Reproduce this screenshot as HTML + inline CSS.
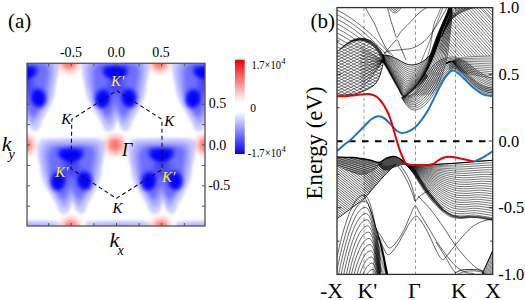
<!DOCTYPE html>
<html><head><meta charset="utf-8"><style>
html,body{margin:0;padding:0;background:#fff;}
svg{display:block;}
text{font-family:"Liberation Serif",serif;}
</style></head><body>
<svg xmlns="http://www.w3.org/2000/svg" width="525" height="300" viewBox="0 0 525 300">
<rect width="525" height="300" fill="#fff"/>
<defs>
<clipPath id="hc"><rect x="27" y="63.3" width="178" height="162.7"/></clipPath>
<filter id="b7" x="-30%" y="-30%" width="160%" height="160%"><feGaussianBlur stdDeviation="6"/></filter>
<filter id="b5" x="-30%" y="-30%" width="160%" height="160%"><feGaussianBlur stdDeviation="5"/></filter>
<filter id="b3" x="-30%" y="-30%" width="160%" height="160%"><feGaussianBlur stdDeviation="3.2"/></filter>
<filter id="b15" x="-30%" y="-30%" width="160%" height="160%"><feGaussianBlur stdDeviation="1.5"/></filter>
<filter id="b25" x="-30%" y="-30%" width="160%" height="160%"><feGaussianBlur stdDeviation="2.5"/></filter>
<filter id="b2" x="-30%" y="-30%" width="160%" height="160%"><feGaussianBlur stdDeviation="2.3"/></filter>
<filter id="br" x="-50%" y="-50%" width="200%" height="200%"><feGaussianBlur stdDeviation="3.5"/></filter>
<linearGradient id="cb" x1="0" y1="0" x2="0" y2="1"><stop offset="0" stop-color="#f00000"/><stop offset="0.45" stop-color="#fff"/><stop offset="0.55" stop-color="#fff"/><stop offset="1" stop-color="#0000f8"/></linearGradient>
</defs>
<defs><g id="bl" fill="#0000ff"><path d="M-30 -34C-25 -34.2 -10 -35 0 -35C10 -35 24.3 -35.5 30 -34C35.7 -32.5 33.5 -29 34 -26C34.5 -23 33.5 -19.3 33 -16C32.5 -12.7 31.5 -9.2 31 -6C30.5 -2.8 30.7 0 30 3C29.3 6 28.3 8.8 27 12C25.7 15.2 23.7 18.8 22 22C20.3 25.2 18.3 28.3 17 31C15.7 33.7 15.2 36.3 14 38C12.8 39.7 11.5 41.2 10 41C8.5 40.8 6.3 39 5 37C3.7 35 3 29 2 29C1 29 0.3 35 -1 37C-2.3 39 -4.3 40.7 -6 41C-7.7 41.3 -9.5 40.7 -11 39C-12.5 37.3 -13.5 33.8 -15 31C-16.5 28.2 -18.2 25.2 -20 22C-21.8 18.8 -24.4 15.2 -26 12C-27.6 8.8 -28.7 6 -29.5 3C-30.3 0 -30.4 -2.8 -31 -6C-31.6 -9.2 -32.5 -12.7 -33 -16C-33.5 -19.3 -33.8 -24.3 -34 -26Z" fill-opacity="0.19" filter="url(#b15)"/><path d="M-25 -30C-20.8 -30.2 -8.3 -31 0 -31C8.3 -31 20.2 -31.5 25 -30C29.8 -28.5 28.5 -25.3 29 -22C29.5 -18.7 28.5 -13.7 28 -10C27.5 -6.3 26.8 -3.3 26 0C25.2 3.3 24.3 6.8 23 10C21.7 13.2 19.7 16.2 18 19C16.3 21.8 14.3 24.7 13 27C11.7 29.3 11.2 32 10 33C8.8 34 7.2 34.2 6 33C4.8 31.8 3.8 28 3 26C2.2 24 1.7 21 1 21C0.3 21 -0.2 24 -1 26C-1.8 28 -2.7 31.8 -4 33C-5.3 34.2 -7.7 34 -9 33C-10.3 32 -10.7 29.3 -12 27C-13.3 24.7 -15.3 21.8 -17 19C-18.7 16.2 -20.6 13.2 -22 10C-23.4 6.8 -24.5 3.3 -25.5 0C-26.5 -3.3 -27.4 -6.3 -28 -10C-28.6 -13.7 -28.8 -20 -29 -22Z" fill-opacity="0.22" filter="url(#b2)"/><path d="M-19 -26C-15.8 -26.2 -6.5 -27 0 -27C6.5 -27 16 -27.3 20 -26C24 -24.7 23.7 -22.2 24 -19C24.3 -15.8 22.5 -10.8 22 -7C21.5 -3.2 21.7 0.7 21 4C20.3 7.3 19.3 10.2 18 13C16.7 15.8 14.3 18.8 13 21C11.7 23.2 11.3 25.5 10 26C8.7 26.5 6.3 25.5 5 24C3.7 22.5 2.8 18.8 2 17C1.2 15.2 0.7 13 0 13C-0.7 13 -1.2 15.2 -2 17C-2.8 18.8 -3.7 22.5 -5 24C-6.3 25.5 -8.7 26.5 -10 26C-11.3 25.5 -11.7 23.2 -13 21C-14.3 18.8 -16.7 15.8 -18 13C-19.3 10.2 -20.3 7.3 -21 4C-21.7 0.7 -21.7 -3.2 -22 -7C-22.3 -10.8 -22.8 -17 -23 -19Z" fill-opacity="0.32" filter="url(#b2)"/><ellipse cx="-0.3" cy="-18.5" rx="12" ry="5.5" transform="rotate(0 -0.3 -18.5)" fill-opacity="0.85" filter="url(#b2)"/><ellipse cx="-12.8" cy="8" rx="7.5" ry="9.5" transform="rotate(14 -12.8 8)" fill-opacity="0.85" filter="url(#b2)"/><ellipse cx="13.6" cy="7.5" rx="7.5" ry="9.5" transform="rotate(-14 13.6 7.5)" fill-opacity="0.85" filter="url(#b2)"/><path d="M-14 -24L14 -24L4 -10L-4 -10Z" fill-opacity="0.7" filter="url(#b25)"/><ellipse cx="0.5" cy="-4" rx="9" ry="8" fill-opacity="0.35" filter="url(#b25)"/><ellipse cx="-0.3" cy="-17" rx="7.5" ry="3.6" transform="rotate(0 -0.3 -17)" fill-opacity="1" filter="url(#b2)"/><ellipse cx="-12.3" cy="8.5" rx="4.5" ry="6.5" transform="rotate(12 -12.3 8.5)" fill-opacity="1" filter="url(#b2)"/><ellipse cx="13.3" cy="8" rx="4.5" ry="6.5" transform="rotate(-12 13.3 8)" fill-opacity="1" filter="url(#b2)"/></g></defs>
<g clip-path="url(#hc)">
<rect x="27" y="63.3" width="178" height="162.7" fill="#fff"/>
<use href="#bl" transform="translate(24.9 90.5)"/>
<use href="#bl" transform="translate(115.4 90.5)"/>
<use href="#bl" transform="translate(70.9 173)"/>
<use href="#bl" transform="translate(26.4 255.5)"/>
<use href="#bl" transform="translate(205.9 90.5)"/>
<use href="#bl" transform="translate(161.4 173)"/>
<use href="#bl" transform="translate(116.9 255.5)"/>
<use href="#bl" transform="translate(207.4 255.5)"/>
<g fill="#ff1818" fill-opacity="0.68" filter="url(#br)"><circle cx="69.2" cy="62.5" r="8"/><circle cx="24.7" cy="145" r="8"/><circle cx="159.7" cy="62.5" r="8"/><circle cx="115.2" cy="145" r="8"/><circle cx="70.7" cy="227.5" r="8"/><circle cx="205.7" cy="145" r="8"/><circle cx="161.2" cy="227.5" r="8"/></g>
</g>
<path d="M116.7 90.6 L161.9 119.3 L162.2 169.5 L116.3 198.4 L71 168.7 L71.8 119.4Z" fill="none" stroke="#111" stroke-width="1.1" stroke-dasharray="4 3"/>
<rect x="27" y="63.3" width="178" height="162.7" fill="none" stroke="#555" stroke-width="1.3"/>
<path d="M48.7 63.3v3M48.7 226v-3M71.3 63.3v3M71.3 226v-3M93.9 63.3v3M93.9 226v-3M116.5 63.3v3M116.5 226v-3M139.1 63.3v3M139.1 226v-3M161.7 63.3v3M161.7 226v-3M184.3 63.3v3M184.3 226v-3M27 206.2h3M205 206.2h-3M27 185.8h3M205 185.8h-3M27 165.4h3M205 165.4h-3M27 145h3M205 145h-3M27 124.6h3M205 124.6h-3M27 104.2h3M205 104.2h-3M27 83.8h3M205 83.8h-3" stroke="#555" stroke-width="1"/>
<g font-family="Liberation Serif" font-style="italic" font-size="15">
<text x="61.2" y="123.8" fill="#000">K</text>
<text x="164.3" y="125.9" fill="#000">K</text>
<text x="112.6" y="212.7" fill="#000">K</text>
<text x="111" y="86.2" fill="#fff000">K′</text>
<text x="55.3" y="177" fill="#fff000">K′</text>
<text x="162" y="182" fill="#fff000">K′</text>
</g>
<text x="122" y="156" font-family="Liberation Serif" font-style="italic" font-size="18">Γ</text>
<g font-family="Liberation Serif" font-size="14">
<text x="59.9" y="56.8">-0.5</text><text x="107.4" y="56.8">0.0</text><text x="152.2" y="56.8">0.5</text>
<text x="208.7" y="108">0.5</text><text x="208.7" y="149.5">0.0</text><text x="208.2" y="190">-0.5</text>
</g>
<text x="1.7" y="150.8" font-family="Liberation Serif" font-style="italic" font-size="22">k</text>
<text x="8.6" y="159" font-family="Liberation Serif" font-style="italic" font-size="14">y</text>
<text x="109.4" y="247" font-family="Liberation Serif" font-style="italic" font-size="22">k</text>
<text x="117.5" y="254.6" font-family="Liberation Serif" font-style="italic" font-size="14">x</text>
<rect x="235" y="59.7" width="9.7" height="94.3" fill="url(#cb)"/>
<g font-family="Liberation Serif" font-size="11.5">
<text x="251.5" y="68.6" textLength="29.5" lengthAdjust="spacingAndGlyphs">1.7×10</text><text x="281.5" y="64.3" font-size="8">4</text>
<text x="250.2" y="111.8">0</text>
<text x="247.8" y="156.6" textLength="33.5" lengthAdjust="spacingAndGlyphs">-1.7×10</text><text x="281.7" y="152.3" font-size="8">4</text>
</g>
<g font-family="Liberation Serif" font-size="21">
<text x="8" y="28">(a)</text><text x="310.4" y="28">(b)</text>
</g>
<clipPath id="bc"><rect x="337" y="7.6" width="155.7" height="266.79999999999995"/></clipPath>
<g clip-path="url(#bc)">
<path d="M364 7.6V274.4M415.5 7.6V274.4M455.5 7.6V274.4" stroke="#999" stroke-width="1" stroke-dasharray="3.3 2.7"/>
<defs><clipPath id="cdome"><path d="M337 52C338.3 50.9 342.5 47.2 345 45.5C347.5 43.8 349.8 42.4 352 41.5C354.2 40.6 356 40.3 358 40.2C360 40.1 362 40.2 364 40.8C366 41.3 368.2 42.3 370 43.5C371.8 44.7 373.5 46.4 375 48C376.5 49.6 377.8 51.2 379 53C380.2 54.8 381.8 57.7 382.5 59C383.2 60.3 382.9 60 383 61C383.1 62 383.1 63.2 382.8 65C382.5 66.8 381.8 69.5 381 72C380.2 74.5 379.3 77.7 378 80C376.7 82.3 375.2 84.2 373 86C370.8 87.8 368 89.2 365 90.5C362 91.8 358 93.3 355 94C352 94.7 350 94.7 347 94.9C344 95.1 338.7 95.2 337 95.2Z"/></clipPath><clipPath id="cright"><path d="M451 7.6L494 7.6L494 56L480 56.3L466 56.5L455 56.5L450 56.8L444 57.8L438 60.5L433 61L435.5 54L438.5 45L442 35L446 24L449.5 14Z"/></clipPath><clipPath id="cv2"><path d="M337 165.5L350 170.5L361 174.5L370 172L376 167L381 164L386 166L392 165L397 163.5L390 170L383 177L376 185L370 192L364 199L357 204L349 210L341 216L337 218.5Z"/></clipPath><clipPath id="cv2r"><path d="M364 150L400 150L400 200L364 200Z"/></clipPath><clipPath id="clens"><path d="M337 157C339.6 157.1 347.3 157 352.7 157.5C358.1 158 364.9 159.2 369.3 160C373.7 160.8 377 162 379.3 162.5C381.6 163 383.2 162.3 383 163C382.8 163.7 379.8 165.2 378 166.5C376.2 167.8 374.7 169.6 372 171C369.3 172.4 365.7 174.9 362 175C358.3 175.1 354.2 173 350 171.5C345.8 170 339.2 166.9 337 166Z"/></clipPath><clipPath id="chump"><path d="M337 190L390 190L392 274.4L337 274.4Z"/></clipPath><clipPath id="cbl"><path d="M376 232L382 240L387 274.4L372 274.4Z"/></clipPath><clipPath id="cbr"><path d="M482 274.4L493 249L493 274.4Z"/></clipPath></defs><g clip-path="url(#cdome)"><path d="M337 -22L390 4.5M337 -20.5L390 -47M337 -18.9L390 7.6M337 -17.4L390 -43.9M337 -15.8L390 10.7M337 -14.3L390 -40.8M337 -12.7L390 13.8M337 -11.2L390 -37.7M337 -9.6L390 16.9M337 -8.1L390 -34.6M337 -6.5L390 20M337 -5L390 -31.5M337 -3.4L390 23.1M337 -1.9L390 -28.4M337 -0.3L390 26.2M337 1.2L390 -25.3M337 2.8L390 29.3M337 4.3L390 -22.2M337 5.9L390 32.4M337 7.4L390 -19.1M337 9L390 35.5M337 10.5L390 -16M337 12.1L390 38.6M337 13.6L390 -12.9M337 15.2L390 41.7M337 16.7L390 -9.8M337 18.3L390 44.8M337 19.8L390 -6.7M337 21.4L390 47.9M337 22.9L390 -3.6M337 24.5L390 51M337 26L390 -0.5M337 27.6L390 54.1M337 29.1L390 2.6M337 30.7L390 57.2M337 32.2L390 5.7M337 33.8L390 60.3M337 35.3L390 8.8M337 36.9L390 63.4M337 38.4L390 11.9M337 40L390 66.5M337 41.5L390 15M337 43.1L390 69.6M337 44.6L390 18.1M337 46.2L390 72.7M337 47.7L390 21.2M337 49.3L390 75.8M337 50.8L390 24.3M337 52.4L390 78.9M337 53.9L390 27.4M337 55.5L390 82M337 57L390 30.5M337 58.6L390 85.1M337 60.1L390 33.6M337 61.7L390 88.2M337 63.2L390 36.7M337 64.8L390 91.3M337 66.3L390 39.8M337 67.9L390 94.4M337 69.4L390 42.9M337 71L390 97.5M337 72.5L390 46M337 74.1L390 100.6M337 75.6L390 49.1M337 77.2L390 103.7M337 78.7L390 52.2M337 80.3L390 106.8M337 81.8L390 55.3M337 83.4L390 109.9M337 84.9L390 58.4M337 86.5L390 113M337 88L390 61.5M337 89.6L390 116.1M337 91.1L390 64.6M337 92.7L390 119.2M337 94.2L390 67.7M337 95.8L390 122.3M337 97.3L390 70.8M337 98.9L390 125.4M337 100.4L390 73.9M337 102L390 128.5M337 103.5L390 77M337 105.1L390 131.6M337 106.6L390 80.1M337 108.2L390 134.7M337 109.7L390 83.2M337 111.3L390 137.8M337 112.8L390 86.3M337 114.4L390 140.9M337 115.9L390 89.4M337 117.5L390 144M337 119L390 92.5M337 120.6L390 147.1M337 122.1L390 95.6M337 123.7L390 150.2M337 125.2L390 98.7M337 126.8L390 153.3M337 128.3L390 101.8M337 129.9L390 156.4M337 131.4L390 104.9M337 133L390 159.5M337 134.5L390 108M337 136.1L390 162.6M337 137.6L390 111.1M337 139.2L390 165.7M337 140.7L390 114.2M337 142.3L390 168.8M337 143.8L390 117.3" fill="none" stroke="#000" stroke-width="0.5"/></g>
<g clip-path="url(#cdome)"><path d="M383 61C381.1 59.7 375.3 55.6 371.5 53.3C367.7 51 361.9 48 360 47M383 61C381.1 60.1 375.3 57.1 371.5 55.4C367.7 53.8 361.9 51.7 360 50.9M383 61C381.1 60.4 375.3 58.6 371.5 57.6C367.7 56.6 361.9 55.3 360 54.8M383 61C381.1 60.8 375.3 60.1 371.5 59.8C367.7 59.4 361.9 58.9 360 58.7M383 61C381.1 61.1 375.3 61.6 371.5 61.9C367.7 62.2 361.9 62.5 360 62.6M383 61C381.1 61.5 375.3 63.1 371.5 64C367.7 65 361.9 66.1 360 66.5M383 61C381.1 61.9 375.3 64.6 371.5 66.2C367.7 67.8 361.9 69.7 360 70.5M383 61C381.1 62.2 375.3 66.1 371.5 68.3C367.7 70.6 361.9 73.4 360 74.4M383 61C381.1 62.6 375.3 67.6 371.5 70.5C367.7 73.4 361.9 77 360 78.3M383 61C381.1 62.9 375.3 69.1 371.5 72.7C367.7 76.2 361.9 80.6 360 82.2M383 61C381.1 63.3 375.3 70.6 371.5 74.8C367.7 79 361.9 84.2 360 86.1M383 61C381.1 63.7 375.3 72.1 371.5 77C367.7 81.8 361.9 87.8 360 90" fill="none" stroke="#000" stroke-width="0.5"/></g>
<path d="M337 52C338.3 50.9 342.5 47.2 345 45.5C347.5 43.8 349.8 42.4 352 41.5C354.2 40.6 356 40.3 358 40.2C360 40.1 362 40.2 364 40.8C366 41.3 368.2 42.3 370 43.5C371.8 44.7 373.5 46.4 375 48C376.5 49.6 377.8 51.2 379 53C380.2 54.8 381.9 58 382.5 59" fill="none" stroke="#000" stroke-width="0.6"/>
<path d="M337 95.2C338.7 95.2 344 95.1 347 94.9C350 94.7 352 94.7 355 94C358 93.3 362 91.8 365 90.5C368 89.2 370.8 87.8 373 86C375.2 84.2 376.7 82.3 378 80C379.3 77.7 380.2 74.5 381 72C381.8 69.5 382.5 66.8 382.8 65C383.1 63.2 383 61.7 383 61" fill="none" stroke="#000" stroke-width="0.8"/>
<path d="M337 10L338 10.5L339 11L340 11.6L341 12.1L342 12.7L343 13.2L344 13.8L345 14.4L346 15L347 15.6L348 16.3L349 16.9L350 17.6L351 18.3L352 18.9L353 19.6L354 20.3L355 21.1L356 21.8L357 22.6L358 23.3L359 24.1L360 24.9L361 25.7L362 26.5L363 27.3L364 28.2L365 29L366 29.9L367 30.8L368 31.7L369 32.6L370 33.5L371 34.4L372 35.3L373 36.3L374 37.3L375 38.2L376 39.2L377 40.2L378 41.3L379 42.3L380 43.3L381 44.4L382 45.5L383 46.5L384 47.6L385 48.7L386 49.9L387 51L388 52.1L389 53.3L390 54.5M337 14.6L338 15.1L339 15.6L340 16.2L341 16.7L342 17.3L343 17.8L344 18.4L345 19L346 19.6L347 20.2L348 20.9L349 21.5L350 22.2L351 22.9L352 23.5L353 24.2L354 24.9L355 25.7L356 26.4L357 27.2L358 27.9L359 28.7L360 29.5L361 30.3L362 31.1L363 31.9L364 32.8L365 33.6L366 34.5L367 35.4L368 36.3L369 37.2L370 38.1L371 39L372 39.9L373 40.9L374 41.9L375 42.8L376 43.8L377 44.8L378 45.9L379 46.9L380 47.9L381 49L382 50.1L383 51.1L384 52.2L385 53.3L386 54.5L387 55.6L388 56.7L389 57.9L390 59.1M337 19.2L338 19.7L339 20.2L340 20.8L341 21.3L342 21.9L343 22.4L344 23L345 23.6L346 24.2L347 24.8L348 25.5L349 26.1L350 26.8L351 27.5L352 28.1L353 28.8L354 29.5L355 30.3L356 31L357 31.8L358 32.5L359 33.3L360 34.1L361 34.9L362 35.7L363 36.5L364 37.4L365 38.2L366 39.1L368.5 39.7L369.1 40L369.7 40.2L370.3 40.5L370.9 40.8L371.5 41L372 41.5L372.5 41.9L373 42.4L373.5 42.8L374 43.3L374.5 43.7L375 44.2L375.5 44.6L376 45.1L376.5 45.5L376.9 46L377.3 46.5L377.7 47L378.1 47.5L378.5 48L378.9 48.5L379.3 49L379.7 49.5L380.1 50L380.5 50.5L380.8 51.1L381.2 51.7L381.5 52.3L381.9 52.9L382.2 53.5L382.6 54.1L382.9 54.7L383.3 55.3L383.6 55.9L384 56.5L384.5 58.5L385 60.4M337 23.8L338 24.3L339 24.8L340 25.4L341 25.9L342 26.5L343 27L344 27.6L345 28.2L346 28.8L347 29.4L348 30.1L349 30.7L350 31.4L351 32.1L352 32.7L353 33.4L354 34.1L355 34.9L356 35.6L357 36.4L358 37.1L359 37.9L361.7 38.3L362.3 38.3L362.9 38.4L363.5 38.4L364.1 38.5L364.7 38.6L365.3 38.6L365.9 38.9L366.5 39.2L367.1 39.4L367.7 39.7L368.3 40L368.9 40.2L369.5 40.5L370.1 40.8L370.7 41L371.3 41.3L371.8 41.8L372.3 42.2L372.8 42.7L373.3 43.1L373.8 43.6L374.3 44L374.8 44.5L375.3 44.9L375.8 45.4L376.3 45.8L376.7 46.3L377.1 46.8L377.5 47.3L377.9 47.8L378.3 48.3L378.7 48.8L379.1 49.3L379.5 49.8L379.9 50.3L380.3 50.8L380.7 51.4L381 52L381.4 52.6L381.7 53.2L382.1 53.8L382.4 54.4L382.8 55L383.1 55.6L383.5 56.2L383.8 56.8L384.3 58.8L385 60.6M337 28.4L338 28.9L339 29.4L340 30L341 30.5L342 31.1L343 31.6L344 32.2L345 32.8L346 33.4L347 34L348 34.7L349 35.3L350 36L351 36.7L352 37.3L353 38L354 38.7L356.1 39L356.7 38.8L357.3 38.7L357.9 38.6L358.5 38.4L359.1 38.3L359.7 38.4L360.3 38.4L360.9 38.5L361.5 38.5L362.1 38.6L362.7 38.7L363.3 38.7L363.9 38.8L364.5 38.8L365.1 38.9L365.7 39.2L366.3 39.4L366.9 39.7L367.5 40L368.1 40.2L368.7 40.5L369.3 40.8L369.9 41.1L370.5 41.3L371.1 41.6L371.6 42.1L372.1 42.5L372.6 43L373.1 43.4L373.6 43.9L374.1 44.3L374.6 44.8L375.1 45.2L375.6 45.6L376.1 46.1L376.5 46.6L376.9 47.1L377.3 47.6L377.7 48.1L378.1 48.6L378.5 49.1L378.9 49.6L379.3 50.1L379.7 50.6L380.1 51.1L380.5 51.7L380.8 52.3L381.2 52.9L381.5 53.5L381.9 54.1L382.2 54.7L382.6 55.3L382.9 55.9L383.3 56.5L383.6 57.1L384.1 59.1L385 60.8M337 33L338 33.5L339 34L340 34.6L341 35.1L342 35.7L343 36.2L344 36.8L345 37.4L346 38L347 38.6L348 39.3L349 39.9L350 40.6L352.3 40.3L353 39.9L353.6 39.8L354.2 39.6L354.8 39.5L355.4 39.4L356 39.2L356.6 39.1L357.2 39L357.8 38.8L358.4 38.7L359 38.6L359.6 38.6L360.2 38.7L360.8 38.8L361.4 38.8L362 38.9L362.6 38.9L363.2 39L363.8 39.1L364.4 39.1L365 39.2L365.6 39.5L366.2 39.7L366.8 40L367.4 40.3L368 40.5L368.6 40.8L369.2 41.1L369.8 41.3L370.4 41.6L371 41.9L371.5 42.3L372 42.8L372.5 43.2L373 43.7L373.5 44.1L374 44.6L374.5 45L375 45.5L375.5 45.9L376 46.4L376.4 46.9L376.8 47.4L377.2 47.9L377.6 48.4L378 48.9L378.4 49.4L378.8 49.9L379.2 50.4L379.6 50.9L380 51.4L380.3 52L380.7 52.6L381 53.2L381.4 53.8L381.7 54.4L382.1 55L382.4 55.6L382.8 56.2L383.1 56.8L383.5 57.4L384 59.4L385 61M337 37.6L338 38.1L339 38.6L340 39.2L341 39.7L342 40.3L343 40.8L344 41.4L345 42L346 42.6L347.9 43L348.6 42.6L349.3 42.2L350 41.8L350.7 41.4L351.4 41L352.1 40.6L352.8 40.2L353.4 40L354 39.9L354.6 39.8L355.2 39.6L355.8 39.5L356.4 39.4L357 39.2L357.6 39.1L358.2 39L358.8 38.9L359.4 38.9L360 39L360.6 39L361.2 39.1L361.8 39.2L362.4 39.2L363 39.3L363.6 39.3L364.2 39.4L364.8 39.5L365.4 39.7L366 40L366.6 40.3L367.2 40.5L367.8 40.8L368.4 41.1L369 41.3L369.6 41.6L370.2 41.9L370.8 42.2L371.3 42.6L371.8 43.1L372.3 43.5L372.8 44L373.3 44.4L373.8 44.9L374.3 45.3L374.8 45.8L375.3 46.2L375.8 46.7L376.2 47.2L376.6 47.7L377 48.2L377.4 48.7L377.8 49.2L378.2 49.7L378.6 50.2L379 50.7L379.4 51.2L379.8 51.7L380.2 52.3L380.5 52.9L380.9 53.5L381.2 54.1L381.6 54.7L381.9 55.3L382.3 55.9L382.6 56.5L383 57.1L383.3 57.7L383.8 59.7L385 61.2M337 42.2L338 42.7L339 43.2L340 43.8L341 44.3L342 44.9L343 45.4L344.8 45.1L345.6 44.4L346.3 44L347 43.6L347.7 43.2L348.4 42.8L349.1 42.4L349.8 42L350.5 41.6L351.2 41.2L351.9 40.8L352.6 40.4L353.2 40.3L353.8 40.2L354.4 40L355 39.9L355.6 39.8L356.2 39.7L356.8 39.5L357.4 39.4L358 39.3L358.6 39.1L359.2 39.2L359.8 39.3L360.4 39.3L361 39.4L361.6 39.4L362.2 39.5L362.8 39.6L363.4 39.6L364 39.7L364.6 39.7L365.2 40L365.8 40.3L366.4 40.5L367 40.8L367.6 41.1L368.2 41.4L368.8 41.6L369.4 41.9L370 42.2L370.6 42.4L371.1 42.9L371.6 43.3L372.1 43.8L372.6 44.2L373.1 44.7L373.6 45.1L374.1 45.6L374.6 46L375.1 46.5L375.6 46.9L376 47.4L376.4 47.9L376.8 48.4L377.2 48.9L377.6 49.4L378 49.9L378.4 50.4L378.8 50.9L379.2 51.4L379.6 51.9L380 52.5L380.3 53.1L380.7 53.7L381 54.3L381.4 54.9L381.7 55.5L382.1 56.1L382.4 56.7L382.8 57.3L383.1 57.9L383.6 59.9L385 61.4M337 46.8L338 47.3L339 47.8L340 48.4L341.5 48L342.3 47.3L343.1 46.7L343.9 46L344.7 45.4L345.5 44.7L346.2 44.3L346.9 43.9L347.6 43.5L348.3 43.1L349 42.7L349.7 42.3L350.4 41.9L351.1 41.5L351.8 41.1L352.5 40.7L353.1 40.6L353.7 40.5L354.3 40.3L354.9 40.2L355.5 40.1L356.1 39.9L356.7 39.8L357.3 39.7L357.9 39.6L358.5 39.4L359.1 39.5L359.7 39.5L360.3 39.6L360.9 39.7L361.5 39.7L362.1 39.8L362.7 39.8L363.3 39.9L363.9 40L364.5 40L365.1 40.3L365.7 40.6L366.3 40.8L366.9 41.1L367.5 41.4L368.1 41.6L368.7 41.9L369.3 42.2L369.9 42.4L370.5 42.7L371 43.2L371.5 43.6L372 44.1L372.5 44.5L373 45L373.5 45.4L374 45.9L374.5 46.3L375 46.8L375.5 47.2L375.9 47.7L376.3 48.2L376.7 48.7L377.1 49.2L377.5 49.7L377.9 50.2L378.3 50.7L378.7 51.2L379.1 51.7L379.5 52.2L379.8 52.8L380.2 53.4L380.5 54L380.9 54.6L381.2 55.2L381.6 55.8L381.9 56.4L382.3 57L382.6 57.6L383 58.2L383.5 60.2L385 61.6M337 51.4L338.9 50.2L339.7 49.5L340.5 48.9L341.3 48.2L342.1 47.6L342.9 47L343.7 46.3L344.5 45.6L345.3 45L346 44.6L346.7 44.2L347.4 43.8L348.1 43.4L348.8 43L349.5 42.6L350.2 42.2L350.9 41.8L351.6 41.4L352.3 41L352.9 40.9L353.5 40.7L354.1 40.6L354.7 40.5L355.3 40.4L355.9 40.2L356.5 40.1L357.1 40L357.7 39.8L358.3 39.7L358.9 39.8L359.5 39.8L360.1 39.9L360.7 39.9L361.3 40L361.9 40.1L362.5 40.1L363.1 40.2L363.7 40.2L364.3 40.3L364.9 40.6L365.5 40.8L366.1 41.1L366.7 41.4L367.3 41.6L367.9 41.9L368.5 42.2L369.1 42.5L369.7 42.7L370.3 43L370.8 43.5L371.3 43.9L371.8 44.4L372.3 44.8L372.8 45.2L373.3 45.7L373.8 46.1L374.3 46.6L374.8 47L375.3 47.5L375.7 48L376.1 48.5L376.5 49L376.9 49.5L377.3 50L377.7 50.5L378.1 51L378.5 51.5L378.9 52L379.3 52.5L379.7 53.1L380 53.7L380.4 54.3L380.7 54.9L381.1 55.5L381.4 56.1L381.8 56.7L382.1 57.3L382.4 57.9L382.8 58.5L383.3 60.5L385 61.8" fill="none" stroke="#000" stroke-width="0.55"/>
<path d="M382 55C383.3 55.2 387.3 55.2 390 56C392.7 56.8 395.5 58.2 398 59.5C400.5 60.8 402.7 62.6 405 63.5C407.3 64.4 409.7 65 412 65C414.3 65 416.8 64.3 419 63.5C421.2 62.7 423 61.6 425 60C427 58.4 429.2 56.3 431 54C432.8 51.7 434.5 48.5 436 46C437.5 43.5 439.2 41.7 440 39C440.8 36.3 439.8 33 440.5 30C441.2 27 443 23.8 444.2 21C445.4 18.2 446.6 15.2 447.5 13C448.4 10.8 449.2 8.5 449.5 7.6" fill="none" stroke="#000" stroke-width="0.55"/>
<path d="M382.1 55.4C383.4 55.7 387.3 56 389.9 56.9C392.5 57.8 395.2 59.4 397.7 60.8C400.1 62.2 402.2 64.1 404.5 65.1C406.8 66.2 409.1 67.1 411.4 67.2C413.7 67.2 416.2 66.4 418.3 65.5C420.5 64.6 422.3 63.5 424.3 61.9C426.3 60.3 428.4 58.2 430.2 55.9C432.1 53.6 433.7 50.4 435.2 47.9C436.7 45.4 438.4 43.8 439.2 40.9C440.1 37.9 439.7 33.3 440.6 30C441.4 26.7 443.1 23.8 444.3 21C445.4 18.2 446.7 15.2 447.6 13C448.5 10.8 449.2 8.5 449.6 7.6" fill="none" stroke="#000" stroke-width="0.55"/>
<path d="M382.1 55.8C383.4 56.1 387.2 56.8 389.7 57.8C392.3 58.9 394.9 60.6 397.3 62.1C399.7 63.6 401.8 65.6 404.1 66.8C406.3 67.9 408.5 69.1 410.8 69.3C413 69.4 415.5 68.4 417.6 67.5C419.8 66.6 421.7 65.4 423.6 63.7C425.6 62.1 427.7 60 429.5 57.7C431.3 55.4 433 52.3 434.5 49.8C436 47.3 437.5 46 438.5 42.7C439.5 39.4 439.7 33.6 440.6 30C441.6 26.4 443.2 23.8 444.3 21C445.5 18.2 446.8 15.2 447.6 13C448.5 10.8 449.3 8.5 449.6 7.6" fill="none" stroke="#000" stroke-width="0.55"/>
<path d="M382.2 56.2C383.4 56.6 387.1 57.5 389.6 58.7C392.1 59.9 394.7 61.7 397 63.3C399.3 64.9 401.4 67 403.6 68.3C405.8 69.6 408 71.1 410.2 71.3C412.4 71.5 414.9 70.4 417 69.4C419.1 68.4 421 67.2 423 65.5C425 63.9 427 61.8 428.8 59.5C430.6 57.2 432.3 54.1 433.8 51.6C435.3 49.1 437.3 46.3 437.8 44.4C438.3 42.5 436.4 42.4 436.9 40C437.4 37.6 439.5 33.2 440.7 30C442 26.8 443.2 23.8 444.4 21C445.6 18.2 446.8 15.2 447.7 13C448.6 10.8 449.4 8.5 449.7 7.6" fill="none" stroke="#000" stroke-width="0.55"/>
<path d="M382.3 56.6C383.5 57.1 387.1 58.2 389.5 59.6C391.9 60.9 394.4 62.8 396.7 64.5C399 66.2 401 68.4 403.2 69.8C405.3 71.3 407.4 73.1 409.6 73.3C411.8 73.5 414.2 72.3 416.4 71.3C418.5 70.3 420.4 68.9 422.4 67.2C424.3 65.6 426.3 63.6 428.1 61.2C429.9 58.9 431.6 55.9 433.1 53.4C434.6 50.9 436.5 48.3 437.1 46.1C437.7 43.9 436.4 42.7 437 40C437.6 37.3 439.5 33.2 440.8 30C442 26.8 443.3 23.8 444.5 21C445.6 18.2 446.9 15.2 447.8 13C448.6 10.8 449.4 8.5 449.8 7.6" fill="none" stroke="#000" stroke-width="0.55"/>
<path d="M382.3 56.9C383.5 57.5 387 58.9 389.4 60.4C391.7 61.8 394.1 63.8 396.4 65.7C398.6 67.5 400.6 69.7 402.7 71.3C404.8 72.9 406.9 74.9 409.1 75.2C411.3 75.5 413.6 74.1 415.8 73.1C417.9 72 419.8 70.6 421.8 68.9C423.7 67.2 425.7 65.2 427.4 62.9C429.2 60.6 430.9 57.6 432.4 55.1C433.9 52.6 435.7 50.3 436.4 47.8C437.2 45.2 436.3 43 437 40C437.8 37 439.6 33.2 440.8 30C442.1 26.8 443.4 23.8 444.5 21C445.7 18.2 446.9 15.2 447.8 13C448.7 10.8 449.5 8.5 449.8 7.6" fill="none" stroke="#000" stroke-width="0.55"/>
<path d="M382.4 57.3C383.5 57.9 386.9 59.6 389.2 61.2C391.5 62.8 393.9 64.9 396.1 66.8C398.3 68.7 400.2 71 402.3 72.7C404.4 74.4 406.4 76.7 408.5 77.1C410.7 77.4 413.1 75.9 415.2 74.8C417.3 73.7 419.2 72.3 421.2 70.5C423.1 68.8 425 66.8 426.8 64.5C428.6 62.2 430.3 59.3 431.8 56.7C433.3 54.2 434.9 52.1 435.8 49.4C436.7 46.6 436.2 43.2 437.1 40C437.9 36.8 439.6 33.2 440.9 30C442.1 26.8 443.4 23.8 444.6 21C445.8 18.2 447 15.2 447.9 13C448.8 10.8 449.6 8.5 449.9 7.6" fill="none" stroke="#000" stroke-width="0.55"/>
<path d="M382.4 57.6C383.6 58.4 386.9 60.2 389.1 61.9C391.3 63.7 393.7 65.8 395.8 67.9C397.9 69.9 399.9 72.2 401.9 74.1C404 75.9 405.9 78.5 408 78.9C410.1 79.3 412.5 77.6 414.6 76.5C416.7 75.4 418.7 73.8 420.6 72.1C422.5 70.4 424.4 68.4 426.2 66.1C427.9 63.8 429.7 60.9 431.2 58.3C432.7 55.8 434.2 53.9 435.2 50.9C436.2 47.8 436.2 43.5 437.1 40C438.1 36.5 439.7 33.2 440.9 30C442.2 26.8 443.5 23.8 444.6 21C445.8 18.2 447.1 15.2 447.9 13C448.8 10.8 449.6 8.5 449.9 7.6" fill="none" stroke="#000" stroke-width="0.55"/>
<path d="M382.5 58C383.6 58.8 386.8 60.9 389 62.7C391.2 64.5 393.4 66.8 395.5 68.9C397.6 71 399.5 73.4 401.5 75.4C403.5 77.3 405.5 80.1 407.5 80.6C409.6 81.1 412 79.3 414 78.1C416.1 76.9 418.1 75.4 420 73.6C422 71.9 423.8 69.9 425.6 67.6C427.3 65.3 429.1 62.4 430.6 59.9C432.1 57.3 433.4 55.7 434.6 52.4C435.7 49.1 436.1 43.7 437.2 40C438.3 36.3 439.7 33.2 441 30C442.2 26.8 443.5 23.8 444.7 21C445.9 18.2 447.1 15.2 448 13C448.9 10.8 449.7 8.5 450 7.6" fill="none" stroke="#000" stroke-width="0.55"/>
<path d="M382.5 58.3C383.6 59.1 386.8 61.5 388.9 63.4C391 65.3 393.2 67.7 395.3 69.9C397.3 72.1 399.2 74.6 401.2 76.7C403.1 78.7 405 81.8 407.1 82.3C409.1 82.8 411.4 80.9 413.5 79.7C415.6 78.5 417.6 76.8 419.5 75.1C421.4 73.3 423.2 71.4 425 69.1C426.7 66.8 428.5 63.9 430 61.3C431.5 58.8 433.4 55.7 434 53.8C434.6 51.9 433 52.3 433.5 50C434.1 47.7 436 43.3 437.2 40C438.5 36.7 439.8 33.2 441 30C442.3 26.8 443.6 23.8 444.7 21C445.9 18.2 447.2 15.2 448 13C448.9 10.8 449.7 8.5 450 7.6" fill="none" stroke="#000" stroke-width="0.55"/>
<path d="M382.6 58.6C383.6 59.5 386.7 62 388.8 64.1C390.9 66.1 393 68.6 395 70.9C397 73.2 398.9 75.7 400.8 77.9C402.7 80 404.6 83.3 406.6 83.9C408.6 84.4 410.9 82.4 413 81.2C415.1 79.9 417.1 78.2 419 76.5C420.9 74.7 422.7 72.7 424.4 70.5C426.1 68.2 427.9 65.3 429.4 62.8C430.9 60.2 432.7 57.3 433.4 55.2C434.1 53 433 52.5 433.6 50C434.2 47.5 436 43.3 437.3 40C438.5 36.7 439.8 33.2 441.1 30C442.3 26.8 443.6 23.8 444.8 21C446 18.2 447.2 15.2 448.1 13C449 10.8 449.8 8.5 450.1 7.6" fill="none" stroke="#000" stroke-width="0.55"/>
<path d="M382.6 58.9C383.7 59.9 386.7 62.6 388.7 64.7C390.7 66.9 392.8 69.4 394.8 71.8C396.7 74.2 398.6 76.8 400.5 79C402.4 81.3 404.2 84.8 406.2 85.4C408.2 86 410.5 83.8 412.5 82.6C414.6 81.3 416.6 79.6 418.5 77.8C420.4 76 422.2 74.1 423.9 71.8C425.6 69.5 427.4 66.7 428.9 64.1C430.4 61.6 432.1 58.8 432.9 56.5C433.7 54.1 432.9 52.7 433.6 50C434.4 47.3 436.1 43.3 437.3 40C438.6 36.7 439.9 33.2 441.1 30C442.4 26.8 443.7 23.8 444.8 21C446 18.2 447.3 15.2 448.1 13C449 10.8 449.8 8.5 450.1 7.6" fill="none" stroke="#000" stroke-width="0.55"/>
<path d="M382.7 59.2C383.7 60.2 386.6 63.1 388.6 65.4C390.6 67.6 392.6 70.2 394.5 72.7C396.5 75.1 398.3 77.8 400.2 80.1C402 82.5 403.8 86.2 405.8 86.8C407.8 87.5 410 85.2 412.1 83.9C414.1 82.6 416.2 80.9 418.1 79.1C420 77.2 421.7 75.3 423.4 73.1C425.1 70.8 426.9 68 428.4 65.4C429.9 62.8 431.5 60.3 432.4 57.7C433.3 55.1 432.9 53 433.7 50C434.5 47 436.1 43.3 437.4 40C438.6 36.7 439.9 33.2 441.2 30C442.4 26.8 443.7 23.8 444.9 21C446.1 18.2 447.3 15.2 448.2 13C449.1 10.8 449.9 8.5 450.2 7.6" fill="none" stroke="#000" stroke-width="0.55"/>
<path d="M382.7 59.4C383.7 60.5 386.6 63.6 388.5 65.9C390.5 68.3 392.4 70.9 394.3 73.5C396.2 76 398 78.7 399.8 81.2C401.7 83.6 403.4 87.5 405.4 88.2C407.3 88.9 409.6 86.5 411.6 85.2C413.7 83.9 415.8 82.1 417.6 80.2C419.5 78.4 421.2 76.5 422.9 74.2C424.6 72 426.4 69.2 427.9 66.6C429.4 64.1 430.9 61.6 431.9 58.9C432.9 56.1 432.8 53.1 433.7 50C434.7 46.9 436.2 43.3 437.4 40C438.7 36.7 440 33.2 441.2 30C442.5 26.8 443.8 23.8 444.9 21C446.1 18.2 447.4 15.2 448.2 13C449.1 10.8 449.9 8.5 450.2 7.6" fill="none" stroke="#000" stroke-width="0.55"/>
<path d="M382.8 59.7C383.7 60.8 386.6 64.1 388.4 66.5C390.3 68.9 392.3 71.7 394.1 74.3C396 76.9 397.7 79.6 399.6 82.2C401.4 84.7 403.1 88.8 405 89.5C407 90.2 409.2 87.8 411.2 86.4C413.3 85.1 415.4 83.2 417.2 81.4C419.1 79.5 420.7 77.6 422.5 75.4C424.2 73.1 426 70.3 427.5 67.8C429 65.2 430.4 62.9 431.5 60C432.5 57 432.8 53.3 433.8 50C434.8 46.7 436.2 43.3 437.5 40C438.7 36.7 440 33.2 441.3 30C442.5 26.8 443.8 23.8 445 21C446.1 18.2 447.4 15.2 448.3 13C449.2 10.8 449.9 8.5 450.3 7.6" fill="none" stroke="#000" stroke-width="0.55"/>
<path d="M382.8 59.9C383.7 61.1 386.5 64.5 388.4 67C390.2 69.5 392.1 72.3 393.9 75C395.7 77.7 397.5 80.5 399.3 83.1C401.1 85.7 402.7 89.9 404.7 90.7C406.6 91.4 408.8 88.9 410.8 87.6C412.9 86.2 415 84.3 416.8 82.4C418.7 80.6 420.3 78.7 422 76.4C423.7 74.2 425.5 71.4 427 68.8C428.5 66.3 429.9 64.2 431 61C432.2 57.9 432.7 53.5 433.8 50C434.9 46.5 436.3 43.3 437.5 40C438.8 36.7 440.1 33.2 441.3 30C442.6 26.8 443.8 23.8 445 21C446.2 18.2 447.4 15.2 448.3 13C449.2 10.8 450 8.5 450.3 7.6" fill="none" stroke="#000" stroke-width="0.55"/>
<path d="M382.9 60.1C383.8 61.3 386.5 64.9 388.3 67.5C390.1 70.1 392 72.9 393.7 75.7C395.5 78.4 397.3 81.2 399 83.9C400.8 86.6 402.4 91 404.3 91.8C406.2 92.6 408.5 90 410.5 88.6C412.5 87.2 414.6 85.3 416.5 83.4C418.3 81.5 419.9 79.7 421.6 77.4C423.3 75.1 425.1 72.4 426.6 69.8C428.1 67.3 429.4 65.3 430.6 62C431.8 58.7 432.7 53.7 433.9 50C435 46.3 436.3 43.3 437.6 40C438.8 36.7 440.1 33.2 441.4 30C442.6 26.8 443.9 23.8 445.1 21C446.2 18.2 447.5 15.2 448.4 13C449.2 10.8 450 8.5 450.4 7.6" fill="none" stroke="#000" stroke-width="0.55"/>
<path d="M382.9 60.3C383.8 61.6 386.4 65.3 388.2 67.9C390 70.6 391.8 73.5 393.6 76.3C395.3 79.1 397.1 81.9 398.8 84.7C400.6 87.5 402.2 92 404 92.8C405.9 93.6 408.1 91 410.2 89.6C412.2 88.1 414.3 86.2 416.2 84.3C418 82.4 419.6 80.6 421.3 78.3C423 76 424.8 73.3 426.3 70.7C427.8 68.2 429 66.3 430.3 62.9C431.5 59.4 432.7 53.8 433.9 50C435.1 46.2 436.3 43.3 437.6 40C438.8 36.7 440.1 33.2 441.4 30C442.6 26.8 443.9 23.8 445.1 21C446.3 18.2 447.5 15.2 448.4 13C449.3 10.8 450.1 8.5 450.4 7.6" fill="none" stroke="#000" stroke-width="0.55"/>
<path d="M382.9 60.5C383.8 61.8 386.4 65.6 388.2 68.3C389.9 71.1 391.7 74 393.4 76.8C395.2 79.7 396.9 82.6 398.6 85.4C400.3 88.2 401.9 92.9 403.8 93.8C405.7 94.6 407.9 91.9 409.9 90.4C411.9 89 414 87 415.9 85.1C417.7 83.2 419.3 81.4 421 79.1C422.6 76.8 424.5 74.1 426 71.6C427.5 69 429.1 65.6 430 63.7C430.8 61.7 430.3 62.3 430.9 60C431.6 57.7 432.8 53.3 433.9 50C435 46.7 436.4 43.3 437.6 40C438.9 36.7 440.2 33.2 441.4 30C442.7 26.8 443.9 23.8 445.1 21C446.3 18.2 447.5 15.2 448.4 13C449.3 10.8 450.1 8.5 450.4 7.6" fill="none" stroke="#000" stroke-width="0.55"/>
<path d="M382.9 60.6C383.8 62 386.4 65.9 388.1 68.7C389.8 71.5 391.6 74.4 393.3 77.3C395 80.2 396.7 83.2 398.4 86C400.1 88.9 401.7 93.7 403.5 94.6C405.4 95.4 407.6 92.7 409.6 91.2C411.6 89.7 413.8 87.7 415.6 85.8C417.5 83.9 419 82.1 420.7 79.8C422.3 77.6 424.2 74.9 425.7 72.3C427.2 69.7 428.8 66.4 429.7 64.4C430.5 62.3 430.2 62.4 430.9 60C431.7 57.6 432.8 53.3 433.9 50C435.1 46.7 436.4 43.3 437.6 40C438.9 36.7 440.2 33.2 441.4 30C442.7 26.8 444 23.8 445.1 21C446.3 18.2 447.6 15.2 448.4 13C449.3 10.8 450.1 8.5 450.4 7.6" fill="none" stroke="#000" stroke-width="0.55"/>
<path d="M383 60.8C383.8 62.1 386.4 66.1 388.1 69C389.8 71.8 391.5 74.8 393.2 77.8C394.9 80.7 396.6 83.7 398.3 86.6C400 89.5 401.5 94.4 403.3 95.3C405.2 96.2 407.4 93.3 409.4 91.9C411.4 90.4 413.5 88.3 415.4 86.4C417.2 84.5 418.7 82.7 420.4 80.4C422.1 78.2 423.9 75.5 425.4 72.9C426.9 70.3 428.5 67.1 429.4 65C430.3 62.8 430.2 62.5 431 60C431.7 57.5 432.8 53.3 434 50C435.1 46.7 436.4 43.3 437.7 40C438.9 36.7 440.2 33.2 441.5 30C442.7 26.8 444 23.8 445.2 21C446.3 18.2 447.6 15.2 448.5 13C449.3 10.8 450.1 8.5 450.5 7.6" fill="none" stroke="#000" stroke-width="0.55"/>
<path d="M383 60.9C383.8 62.3 386.4 66.4 388 69.2C389.7 72.1 391.4 75.2 393.1 78.1C394.8 81.1 396.5 84.1 398.1 87C399.8 90 401.3 95 403.2 95.9C405 96.8 407.2 93.9 409.2 92.4C411.2 90.9 413.4 88.9 415.2 86.9C417 85 418.6 83.2 420.2 80.9C421.9 78.7 423.7 76 425.2 73.4C426.7 70.9 428.3 67.7 429.2 65.5C430.2 63.2 430.2 62.6 431 60C431.8 57.4 432.9 53.3 434 50C435.1 46.7 436.4 43.3 437.7 40C438.9 36.7 440.2 33.2 441.5 30C442.7 26.8 444 23.8 445.2 21C446.3 18.2 447.6 15.2 448.5 13C449.4 10.8 450.1 8.5 450.5 7.6" fill="none" stroke="#000" stroke-width="0.55"/>
<path d="M383 61C383.8 62.4 386.3 66.5 388 69.4C389.7 72.3 391.4 75.4 393 78.4C394.7 81.4 396.4 84.4 398 87.3C399.7 90.3 401.2 95.4 403.1 96.3C404.9 97.2 407.1 94.3 409.1 92.8C411.1 91.3 413.2 89.2 415.1 87.3C416.9 85.4 418.4 83.6 420.1 81.3C421.7 79.1 423.6 76.4 425.1 73.8C426.6 71.2 428.1 68.1 429.1 65.8C430.1 63.5 430.2 62.6 431 60C431.8 57.4 432.9 53.3 434 50C435.1 46.7 436.4 43.3 437.7 40C438.9 36.7 440.2 33.2 441.5 30C442.7 26.8 444 23.8 445.2 21C446.4 18.2 447.6 15.2 448.5 13C449.4 10.8 450.2 8.5 450.5 7.6" fill="none" stroke="#000" stroke-width="0.55"/>
<path d="M383 61C383.8 62.4 386.3 66.6 388 69.5C389.7 72.4 391.3 75.5 393 78.5C394.7 81.5 396.3 84.5 398 87.5C399.7 90.5 401.2 95.6 403 96.5C404.8 97.4 407 94.5 409 93C411 91.5 413.2 89.4 415 87.5C416.8 85.6 418.3 83.8 420 81.5C421.7 79.2 423.5 76.6 425 74C426.5 71.4 428 68.3 429 66C430 63.7 430.2 62.7 431 60C431.8 57.3 432.9 53.3 434 50C435.1 46.7 436.4 43.3 437.7 40C438.9 36.7 440.2 33.2 441.5 30C442.8 26.8 444 23.8 445.2 21C446.4 18.2 447.6 15.2 448.5 13C449.4 10.8 450.2 8.5 450.5 7.6" fill="none" stroke="#000" stroke-width="0.55"/>
<path d="M378 52C378.3 52.2 381.3 57.2 383 60C384.7 62.8 386.3 66 388 69C389.7 72 391.3 75 393 78C394.7 81 396.5 84.5 398 87C399.5 89.5 401 91.4 402 93C403 94.6 404.2 96.3 404 96.5C403.8 96.7 402.3 95.8 401 94C399.7 92.2 397.7 88.8 396 86C394.3 83.2 392.7 80 391 77C389.3 74 387.7 71 386 68C384.3 65 382.3 61.7 381 59C379.7 56.3 377.7 51.8 378 52Z" fill="#000" fill-opacity="0.55"/>
<path d="M403 96.5C403.2 96 407 94.2 409 92.5C411 90.8 413.2 88.6 415 86.5C416.8 84.4 418.5 82.1 420 80C421.5 77.9 422.7 74.7 424 74C425.3 73.3 428.2 74.7 428 76C427.8 77.3 425 79.8 423 82C421 84.2 418.5 86.8 416 89C413.5 91.2 410.2 94.2 408 95.5C405.8 96.8 402.8 97 403 96.5Z" fill="#000" fill-opacity="0.6"/>
<path d="M403 96.8C403.8 96.6 406.5 95.9 408 95.6C409.5 95.3 410.7 95.5 412 94.8C413.3 94.1 414.7 93 416 91.5C417.3 90 418.7 87.6 420 85.5C421.3 83.4 422.7 81.2 424 79C425.3 76.8 426.5 74.7 428 72.5C429.5 70.3 431.3 67.8 433 66C434.7 64.2 436.2 62.8 438 61.5C439.8 60.2 442 59.2 444 58.5C446 57.8 448.2 57.5 450 57.2C451.8 57 453.3 56.8 455 57C456.7 57.2 458.2 57.7 460 58.5C461.8 59.3 463.8 60.5 466 62C468.2 63.5 470.7 65.8 473 67.5C475.3 69.2 477.7 71 480 72.5C482.3 74 484.7 75.4 487 76.5C489.3 77.6 492.8 78.6 494 79" fill="none" stroke="#000" stroke-width="0.55"/>
<path d="M402.9 96.9C403.7 96.8 406.3 96.6 407.8 96.5C409.3 96.4 410.5 96.7 411.8 96.2C413.1 95.6 414.5 94.8 415.9 93.3C417.2 91.9 418.7 89.7 420.1 87.8C421.5 85.8 422.9 83.5 424.3 81.4C425.7 79.3 426.9 77.1 428.4 74.9C429.9 72.7 431.7 70.2 433.4 68.2C435.1 66.3 436.6 64.7 438.4 63.4C440.2 62 442.4 60.8 444.3 60C446.2 59.2 448.3 58.8 450.1 58.5C451.9 58.2 453.4 58 455 58.2C456.6 58.4 458.2 59 460 59.9C461.8 60.8 463.8 62.1 466 63.6C468.2 65.2 470.7 67.5 473 69.3C475.3 71.1 477.7 72.8 480 74.3C482.3 75.8 484.7 77.2 487 78.2C489.3 79.2 492.8 80.2 494 80.5" fill="none" stroke="#000" stroke-width="0.55"/>
<path d="M402.7 96.9C403.5 97 406.1 97.3 407.6 97.4C409.1 97.5 410.2 97.9 411.6 97.5C413 97.2 414.3 96.5 415.7 95.2C417.1 93.9 418.7 91.9 420.2 90C421.7 88.1 423.2 85.9 424.6 83.8C426 81.7 427.3 79.5 428.8 77.3C430.3 75.1 432.1 72.5 433.8 70.5C435.5 68.5 437 66.7 438.8 65.2C440.6 63.7 442.7 62.4 444.6 61.5C446.5 60.6 448.5 60.1 450.2 59.8C451.9 59.4 453.4 59.1 455 59.4C456.6 59.7 458.2 60.4 460 61.3C461.8 62.3 463.8 63.7 466 65.3C468.2 66.9 470.7 69.2 473 71.1C475.3 72.9 477.7 74.7 480 76.2C482.3 77.6 484.7 78.9 487 79.9C489.3 80.9 492.8 81.7 494 82.1" fill="none" stroke="#000" stroke-width="0.55"/>
<path d="M402.6 97C403.4 97.2 405.9 98 407.4 98.3C408.9 98.6 410 99.1 411.4 98.9C412.8 98.7 414.1 98.2 415.6 97C417 95.9 418.7 94.1 420.3 92.2C421.9 90.4 423.4 88.3 424.9 86.2C426.4 84.1 427.6 81.9 429.2 79.7C430.8 77.5 432.5 74.9 434.2 72.8C435.9 70.6 437.4 68.7 439.2 67C441 65.4 443 64 444.9 63C446.8 62 448.6 61.4 450.3 61C452 60.6 453.4 60.3 455 60.6C456.6 60.9 458.2 61.7 460 62.8C461.8 63.8 463.8 65.3 466 67C468.2 68.6 470.7 71 473 72.8C475.3 74.7 477.7 76.5 480 78C482.3 79.5 484.7 80.7 487 81.6C489.3 82.6 492.8 83.3 494 83.7" fill="none" stroke="#000" stroke-width="0.55"/>
<path d="M402.4 97.1C403.2 97.4 405.7 98.6 407.2 99.2C408.7 99.7 409.8 100.3 411.2 100.3C412.6 100.2 413.9 99.9 415.4 98.9C416.9 97.9 418.8 96.2 420.4 94.5C422 92.8 423.7 90.7 425.2 88.6C426.7 86.5 428 84.4 429.6 82.1C431.2 79.8 432.9 77.2 434.6 75C436.3 72.8 437.8 70.7 439.6 68.9C441.4 67.2 443.4 65.6 445.2 64.5C447 63.4 448.8 62.8 450.4 62.3C452 61.9 453.4 61.5 455 61.8C456.6 62.1 458.2 63 460 64.2C461.8 65.3 463.8 66.9 466 68.6C468.2 70.3 470.7 72.8 473 74.6C475.3 76.5 477.7 78.4 480 79.8C482.3 81.3 484.7 82.4 487 83.3C489.3 84.2 492.8 84.9 494 85.2" fill="none" stroke="#000" stroke-width="0.55"/>
<path d="M402.2 97.2C403 97.6 405.5 99.3 407 100C408.5 100.8 409.6 101.5 411 101.7C412.4 101.8 413.7 101.6 415.2 100.8C416.8 99.9 418.8 98.4 420.5 96.8C422.2 95.1 423.9 93 425.5 91C427.1 89 428.4 86.8 430 84.5C431.6 82.2 433.3 79.5 435 77.2C436.7 75 438.2 72.6 440 70.8C441.8 68.9 443.8 67.2 445.5 66C447.2 64.8 448.9 64.1 450.5 63.6C452.1 63.1 453.4 62.7 455 63C456.6 63.3 458.2 64.4 460 65.6C461.8 66.8 463.8 68.5 466 70.2C468.2 72 470.7 74.5 473 76.4C475.3 78.3 477.7 80.2 480 81.7C482.3 83.1 484.7 84.2 487 85C489.3 85.9 492.8 86.5 494 86.8" fill="none" stroke="#000" stroke-width="0.55"/>
<path d="M402.1 97.2C402.9 97.8 405.4 100 406.8 100.9C408.2 101.9 409.4 102.7 410.8 103C412.2 103.3 413.5 103.3 415.1 102.6C416.7 101.9 418.8 100.5 420.6 99C422.4 97.5 424.2 95.4 425.8 93.4C427.4 91.4 428.8 89.2 430.4 86.9C432 84.6 433.7 81.9 435.4 79.5C437.1 77.1 438.7 74.6 440.4 72.6C442.1 70.6 444.1 68.8 445.8 67.5C447.5 66.2 449.1 65.4 450.6 64.9C452.1 64.3 453.4 63.8 455 64.2C456.6 64.6 458.2 65.7 460 67C461.8 68.3 463.8 70 466 71.9C468.2 73.8 470.7 76.2 473 78.2C475.3 80.1 477.7 82.1 480 83.5C482.3 84.9 484.7 86 487 86.8C489.3 87.6 492.8 88 494 88.3" fill="none" stroke="#000" stroke-width="0.55"/>
<path d="M401.9 97.3C402.7 98 405.2 100.6 406.6 101.8C408 103 409.2 104 410.6 104.4C412 104.8 413.3 105 414.9 104.5C416.6 103.9 418.8 102.7 420.7 101.2C422.6 99.8 424.4 97.8 426.1 95.8C427.8 93.8 429.2 91.6 430.8 89.3C432.4 87 434.1 84.2 435.8 81.8C437.5 79.3 439.1 76.6 440.8 74.5C442.5 72.3 444.5 70.4 446.1 69C447.8 67.6 449.2 66.8 450.7 66.2C452.2 65.6 453.4 65 455 65.4C456.6 65.8 458.2 67.1 460 68.4C461.8 69.8 463.8 71.6 466 73.5C468.2 75.5 470.7 78 473 80C475.3 81.9 477.7 83.9 480 85.3C482.3 86.7 484.7 87.7 487 88.5C489.3 89.2 492.8 89.6 494 89.8" fill="none" stroke="#000" stroke-width="0.55"/>
<path d="M401.8 97.4C402.6 98.3 405 101.3 406.4 102.7C407.8 104.1 409 105.2 410.4 105.8C411.8 106.4 413.1 106.7 414.8 106.3C416.5 105.9 418.9 104.8 420.8 103.5C422.7 102.2 424.7 100.2 426.4 98.2C428.1 96.2 429.6 94.1 431.2 91.7C432.8 89.3 434.5 86.6 436.2 84C437.9 81.4 439.5 78.5 441.2 76.3C442.9 74 444.8 72 446.4 70.5C448 69 449.4 68.1 450.8 67.4C452.2 66.8 453.5 66.2 455 66.6C456.5 67 458.2 68.4 460 69.9C461.8 71.3 463.8 73.2 466 75.2C468.2 77.2 470.7 79.8 473 81.7C475.3 83.7 477.7 85.7 480 87.1C482.3 88.5 484.7 89.5 487 90.2C489.3 90.9 492.8 91.2 494 91.4" fill="none" stroke="#000" stroke-width="0.55"/>
<path d="M401.6 97.4C402.4 98.5 404.8 102 406.2 103.6C407.6 105.2 408.8 106.4 410.2 107.1C411.6 107.9 412.9 108.4 414.6 108.2C416.4 107.9 418.9 107 420.9 105.8C422.9 104.5 424.9 102.5 426.7 100.6C428.5 98.7 430 96.5 431.6 94.1C433.2 91.7 434.9 88.9 436.6 86.2C438.3 83.6 439.9 80.5 441.6 78.2C443.3 75.8 445.1 73.6 446.7 72C448.2 70.4 449.5 69.4 450.9 68.7C452.3 68 453.5 67.4 455 67.8C456.5 68.2 458.2 69.8 460 71.3C461.8 72.8 463.8 74.8 466 76.8C468.2 78.9 470.7 81.5 473 83.5C475.3 85.5 477.7 87.6 480 89C482.3 90.4 484.7 91.2 487 91.9C489.3 92.6 492.8 92.8 494 93" fill="none" stroke="#000" stroke-width="0.55"/>
<path d="M401.5 97.5C402.2 98.7 404.6 102.7 406 104.5C407.4 106.3 408.6 107.6 410 108.5C411.4 109.4 412.7 110.1 414.5 110C416.3 109.9 418.9 109.2 421 108C423.1 106.8 425.2 104.9 427 103C428.8 101.1 430.3 98.9 432 96.5C433.7 94.1 435.3 91.2 437 88.5C438.7 85.8 440.3 82.5 442 80C443.7 77.5 445.5 75.2 447 73.5C448.5 71.8 449.7 70.8 451 70C452.3 69.2 453.5 68.5 455 69C456.5 69.5 458.2 71.1 460 72.7C461.8 74.3 463.8 76.4 466 78.5C468.2 80.6 470.7 83.2 473 85.3C475.3 87.3 477.7 89.4 480 90.8C482.3 92.2 484.7 93 487 93.6C489.3 94.2 492.8 94.3 494 94.5" fill="none" stroke="#000" stroke-width="0.55"/>
<path d="M446 63.5C447 63.2 449.7 62.4 452 61.5C454.3 60.6 456.7 58.8 460 58C463.3 57.2 466.3 57 472 56.7C477.7 56.3 490.3 56.1 494 56" fill="none" stroke="#000" stroke-width="0.5"/>
<path d="M446 63.5C447 63.2 449.7 62.2 452 61.5C454.3 60.8 456.7 59.7 460 59.1C463.3 58.6 466.3 58.5 472 58.3C477.7 58.1 490.3 58 494 58" fill="none" stroke="#000" stroke-width="0.5"/>
<path d="M446 63.5C447 63.2 449.7 62 452 61.5C454.3 61 456.7 60.5 460 60.3C463.3 60 466.3 59.9 472 59.9C477.7 59.9 490.3 60 494 60" fill="none" stroke="#000" stroke-width="0.5"/>
<path d="M446 63.5C447 63.2 449.7 61.8 452 61.5C454.3 61.2 456.7 61.4 460 61.4C463.3 61.4 466.3 61.4 472 61.5C477.7 61.6 490.3 61.9 494 62" fill="none" stroke="#000" stroke-width="0.5"/>
<path d="M446 63.5C447 63.2 449.7 61.7 452 61.5C454.3 61.3 456.7 62.3 460 62.5C463.3 62.8 466.3 62.9 472 63.1C477.7 63.4 490.3 63.9 494 64" fill="none" stroke="#000" stroke-width="0.5"/>
<path d="M446 63.5C447 63.2 449.7 61.5 452 61.5C454.3 61.5 456.7 63.1 460 63.7C463.3 64.2 466.3 64.3 472 64.7C477.7 65.1 490.3 65.8 494 66" fill="none" stroke="#000" stroke-width="0.5"/>
<path d="M446 63.5C447 63.2 449.7 61.3 452 61.5C454.3 61.7 456.7 64 460 64.8C463.3 65.6 466.3 65.8 472 66.3C477.7 66.9 490.3 67.7 494 68" fill="none" stroke="#000" stroke-width="0.5"/>
<path d="M446 63.5C447 63.2 449.7 61.1 452 61.5C454.3 61.9 456.7 64.9 460 66C463.3 67 466.3 67.3 472 68C477.7 68.6 490.3 69.7 494 70" fill="none" stroke="#000" stroke-width="0.5"/>
<path d="M446 63.5C447 63.2 449.7 60.9 452 61.5C454.3 62.1 456.7 65.7 460 67.1C463.3 68.4 466.3 68.7 472 69.6C477.7 70.4 490.3 71.6 494 72" fill="none" stroke="#000" stroke-width="0.5"/>
<path d="M446 63.5C447 63.2 449.7 60.7 452 61.5C454.3 62.3 456.7 66.6 460 68.2C463.3 69.8 466.3 70.2 472 71.2C477.7 72.1 490.3 73.5 494 74" fill="none" stroke="#000" stroke-width="0.5"/>
<path d="M446 63.5C447 63.2 449.7 60.5 452 61.5C454.3 62.5 456.7 67.5 460 69.4C463.3 71.2 466.3 71.7 472 72.8C477.7 73.9 490.3 75.5 494 76" fill="none" stroke="#000" stroke-width="0.5"/>
<path d="M446 63.5C447 63.2 449.7 60.3 452 61.5C454.3 62.7 456.7 68.3 460 70.5C463.3 72.7 466.3 73.2 472 74.4C477.7 75.7 490.3 77.4 494 78" fill="none" stroke="#000" stroke-width="0.5"/>
<path d="M449 69.8C449.5 69.5 451 68.2 452 67.9C453 67.6 454 67.7 455 68.1C456 68.4 457 69.4 458 70.1C459 70.9 460 71.7 461 72.6C462 73.4 463 74.4 464 75.4C465 76.3 466 77.3 467 78.3C468 79.3 469 80.3 470 81.3C471 82.3 472 83.1 473 84C474 84.9 475 85.8 476 86.6C477 87.4 478 88.1 479 88.7C480 89.3 481 89.9 482 90.4C483 90.9 484 91.3 485 91.6C486 91.9 487 92.1 488 92.3C489 92.5 490 92.7 491 92.8C492 92.9 493.5 92.9 494 92.9" fill="none" stroke="#000" stroke-width="0.5"/>
<path d="M449 68.2C449.5 67.9 451 66.6 452 66.3C453 66 454 66.1 455 66.5C456 66.8 457 67.8 458 68.5C459 69.3 460 70.1 461 71C462 71.8 463 72.8 464 73.8C465 74.7 466 75.7 467 76.7C468 77.7 469 78.7 470 79.7C471 80.7 472 81.5 473 82.4C474 83.3 475 84.2 476 85C477 85.8 478 86.5 479 87.1C480 87.7 481 88.3 482 88.8C483 89.3 484 89.7 485 90C486 90.3 487 90.5 488 90.7C489 90.9 490 91.1 491 91.2C492 91.3 493.5 91.3 494 91.3" fill="none" stroke="#000" stroke-width="0.5"/>
<path d="M449 66.6C449.5 66.3 451 65 452 64.7C453 64.4 454 64.5 455 64.9C456 65.2 457 66.2 458 66.9C459 67.7 460 68.5 461 69.4C462 70.2 463 71.2 464 72.2C465 73.1 466 74.1 467 75.1C468 76.1 469 77.1 470 78.1C471 79.1 472 79.9 473 80.8C474 81.7 475 82.6 476 83.4C477 84.2 478 84.9 479 85.5C480 86.1 481 86.7 482 87.2C483 87.7 484 88.1 485 88.4C486 88.7 487 88.9 488 89.1C489 89.3 490 89.5 491 89.6C492 89.7 493.5 89.7 494 89.7" fill="none" stroke="#000" stroke-width="0.5"/>
<path d="M449 65C449.5 64.7 451 63.4 452 63.1C453 62.8 454 62.9 455 63.3C456 63.6 457 64.6 458 65.3C459 66.1 460 66.9 461 67.8C462 68.6 463 69.6 464 70.6C465 71.5 466 72.5 467 73.5C468 74.5 469 75.5 470 76.5C471 77.5 472 78.3 473 79.2C474 80.1 475 81 476 81.8C477 82.6 478 83.3 479 83.9C480 84.5 481 85.1 482 85.6C483 86.1 484 86.5 485 86.8C486 87.1 487 87.3 488 87.5C489 87.7 490 87.9 491 88C492 88.1 493.5 88.1 494 88.1" fill="none" stroke="#000" stroke-width="0.5"/>
<g clip-path="url(#cright)"><path d="M441.4 36.8C441.9 35.5 443.3 31.3 444.3 28.8C445.2 26.3 446.3 23.8 447 21.8C447.8 19.8 448.4 18.3 449 16.8C449.6 15.3 450.1 14 450.6 12.8C451 11.6 451.4 10.6 451.7 9.8C452 9 452.2 8.4 452.4 8C452.6 7.5 452.8 7.3 452.8 7.1C452.8 6.9 452 6.6 452.5 6.8C453 7 454.3 7.5 455.5 8.4C456.7 9.3 448.3 0.2 459.5 12.4C470.7 24.6 512 70.2 522.5 81.7M441.4 36.8C441.9 35.5 443.4 31.3 444.4 28.8C445.4 26.3 446.5 23.8 447.4 21.8C448.2 19.8 448.9 18.3 449.7 16.8C450.4 15.3 451.1 14 451.8 12.8C452.5 11.6 453.1 10.6 453.6 9.8C454.2 9 454.6 8.4 455 8C455.3 7.5 455.6 7.3 455.7 7.1C455.8 6.9 455.1 6.6 455.6 6.8C456.1 7 457.4 7.5 458.6 8.4C459.8 9.3 451.4 0.2 462.6 12.4C473.8 24.6 515.1 70.2 525.6 81.7M441.4 36.8C441.9 35.5 443.5 31.3 444.5 28.8C445.5 26.3 446.7 23.8 447.7 21.8C448.6 19.8 449.4 18.3 450.3 16.8C451.2 15.3 452.2 14 453 12.8C453.9 11.6 454.8 10.6 455.6 9.8C456.3 9 457 8.4 457.5 8C458.1 7.5 458.5 7.3 458.7 7.1C458.9 6.9 458.2 6.6 458.7 6.8C459.2 7 460.5 7.5 461.7 8.4C462.9 9.3 454.5 0.2 465.7 12.4C476.9 24.6 518.2 70.2 528.7 81.7M441.5 36.8C442 35.5 443.5 31.3 444.6 28.8C445.7 26.3 446.9 23.8 448 21.8C449 19.8 450 18.3 451 16.8C452.1 15.3 453.2 14 454.3 12.8C455.4 11.6 456.6 10.6 457.5 9.8C458.5 9 459.4 8.4 460.1 8C460.8 7.5 461.4 7.3 461.6 7.1C461.9 6.9 461.3 6.6 461.8 6.8C462.3 7 463.6 7.5 464.8 8.4C466 9.3 457.6 0.2 468.8 12.4C480 24.6 521.3 70.2 531.8 81.7M441.5 36.8C442 35.5 443.6 31.3 444.7 28.8C445.8 26.3 447.1 23.8 448.3 21.8C449.4 19.8 450.5 18.3 451.7 16.8C452.9 15.3 454.2 14 455.5 12.8C456.8 11.6 458.3 10.6 459.5 9.8C460.7 9 461.8 8.4 462.7 8C463.6 7.5 464.2 7.3 464.6 7.1C465 6.9 464.4 6.6 464.9 6.8C465.4 7 466.7 7.5 467.9 8.4C469.1 9.3 460.7 0.2 471.9 12.4C483.1 24.6 524.4 70.2 534.9 81.7M441.5 36.8C442.1 35.5 443.6 31.3 444.8 28.8C446 26.3 447.3 23.8 448.6 21.8C449.8 19.8 451 18.3 452.3 16.8C453.7 15.3 455.2 14 456.7 12.8C458.2 11.6 460 10.6 461.4 9.8C462.9 9 464.3 8.4 465.3 8C466.3 7.5 467.1 7.3 467.6 7.1C468 6.9 467.4 6.6 468 6.8C468.6 7 469.8 7.5 471 8.4C472.2 9.3 463.8 0.2 475 12.4C486.2 24.6 527.5 70.2 538 81.7M441.6 36.8C442.1 35.5 443.7 31.3 444.9 28.8C446.1 26.3 447.6 23.8 448.9 21.8C450.2 19.8 451.5 18.3 453 16.8C454.5 15.3 456.2 14 458 12.8C459.7 11.6 461.8 10.6 463.4 9.8C465.1 9 466.7 8.4 467.9 8C469 7.5 470 7.3 470.5 7.1C471.1 6.9 470.5 6.6 471.1 6.8C471.7 7 472.9 7.5 474.1 8.4C475.3 9.3 466.9 0.2 478.1 12.4C489.3 24.6 530.6 70.2 541.1 81.7M441.6 36.8C442.2 35.5 443.7 31.3 445 28.8C446.3 26.3 447.8 23.8 449.2 21.8C450.6 19.8 452 18.3 453.7 16.8C455.3 15.3 457.2 14 459.2 12.8C461.1 11.6 463.5 10.6 465.4 9.8C467.2 9 469.1 8.4 470.4 8C471.8 7.5 472.9 7.3 473.5 7.1C474.1 6.9 473.6 6.6 474.2 6.8C474.8 7 476 7.5 477.2 8.4C478.4 9.3 470 0.2 481.2 12.4C492.4 24.6 533.7 70.2 544.2 81.7M441.6 36.8C442.2 35.5 443.8 31.3 445.1 28.8C446.4 26.3 448 23.8 449.5 21.8C451.1 19.8 452.5 18.3 454.3 16.8C456.2 15.3 458.3 14 460.4 12.8C462.6 11.6 465.2 10.6 467.3 9.8C469.4 9 471.5 8.4 473 8C474.5 7.5 475.7 7.3 476.5 7.1C477.2 6.9 476.7 6.6 477.3 6.8C477.9 7 479.1 7.5 480.3 8.4C481.5 9.3 473.1 0.2 484.3 12.4C495.5 24.6 536.8 70.2 547.3 81.7M481.9 7.6L550.4 83M485 7.6L553.5 83M488.1 7.6L556.6 83M491.2 7.6L559.7 83M494.3 7.6L562.8 83M456.4 12.4L519.4 81.7M453.8 12.9L516.3 81.7M452.2 14.6L513.2 81.7M451.1 16.8L510.1 81.7M450 19L507 81.7M448.9 21.2L503.9 81.7M447.8 23.4L500.8 81.7M446.7 25.6L497.7 81.7M445.6 27.8L494.6 81.7M444.5 30L491.5 81.7M443.9 32.8L488.4 81.7M442.8 35L485.3 81.7M442.2 37.7L482.2 81.7M441.1 39.9L479.1 81.7M440.5 42.7L476 81.7M439.4 44.9L472.9 81.7M438.8 47.6L469.8 81.7" fill="none" stroke="#000" stroke-width="0.55"/></g>
<path d="M365.5 7.6C366.2 9 368.5 13.3 370 16C371.5 18.7 373.4 21.3 374.7 24C376 26.7 376.8 29.2 378 32C379.2 34.8 380.7 37.8 382 40.5C383.3 43.2 384.7 46 386 48C387.3 50 388.8 51.2 390 52.5C391.2 53.8 392.5 55.4 393 56" fill="none" stroke="#000" stroke-width="0.6"/>
<path d="M387.5 7.6C388 9.7 389.6 16.3 390.7 20C391.8 23.7 393 27.1 394 30C395 32.9 395.5 37 396.7 37.3C397.9 37.5 399.3 33.5 401 31.5C402.7 29.5 405.1 27.5 407 25.5C408.9 23.5 410.9 21.4 412.7 19.5C414.5 17.6 416.3 15.6 418 14C419.7 12.4 421.5 11.1 423 10C424.5 8.9 426.3 8 427 7.6" fill="none" stroke="#000" stroke-width="0.6"/>
<path d="M382 56C382.4 55.5 383.4 54.8 384.7 53.3C386 51.8 388 49.2 390 47C392 44.8 395 40.2 396.7 40C398.4 39.8 398.9 43.8 400 46C401.1 48.2 402 50.7 403 53C404 55.3 405.5 58.8 406 60" fill="none" stroke="#000" stroke-width="0.6"/>
<path d="M384 52.5C385.3 52.2 389.7 50.9 392 50.5C394.3 50.1 395.8 50.2 398 50C400.2 49.8 402.8 49.5 405 49.3C407.2 49 409.1 49.1 411.3 48.5C413.5 47.9 415.9 46.7 418 45.5C420.1 44.3 422 43.2 424 41.5C426 39.8 428.2 37.2 430 35C431.8 32.8 433.3 30.5 435 28C436.7 25.5 438.5 22.5 440 20C441.5 17.5 442.8 15.1 444 13C445.2 10.9 446.5 8.5 447 7.6" fill="none" stroke="#000" stroke-width="0.6"/>
<path d="M421 62C421.8 60 424.5 53.7 426 50C427.5 46.3 428.7 43.5 430 40C431.3 36.5 432.7 32.3 434 29C435.3 25.7 436.5 23.6 438 20C439.5 16.4 442.2 9.7 443 7.6" fill="none" stroke="#000" stroke-width="0.5"/>
<path d="M426 60C426.7 58 428.7 53.8 430 48C431.3 42.2 432.5 30.5 433.8 25C435.1 19.5 436.8 17.9 438 15C439.2 12.1 440.5 8.8 441 7.6" fill="none" stroke="#000" stroke-width="0.5"/>
<path d="M428.5 60C428.7 57.7 430.4 53.3 431.5 50C432.6 46.7 433.8 43.3 435 40C436.2 36.7 437.7 33.2 439 30C440.3 26.8 441.8 23.8 443 21C444.2 18.2 445.6 15.2 446.5 13C447.4 10.8 447.7 8.5 448.5 7.6C449.3 6.7 451.3 6.5 451.5 7.6C451.7 8.7 450.3 11.6 449.5 14C448.7 16.4 447.6 19.2 446.5 22C445.4 24.8 444.2 27.8 443 31C441.8 34.2 440.7 37.7 439.5 41C438.3 44.3 437.1 48 436 51C434.9 54 433.9 56.8 433 59C432.1 61.2 431.2 63.8 430.5 64C429.8 64.2 428.3 62.3 428.5 60Z" fill="#000" fill-opacity="0.92"/>
<path d="M408.5 97C409.6 96 413.2 93 415.1 91C417 89 418.3 87 419.8 85C421.2 83 422.6 81 423.8 79C425 77 426 75 427.1 73C428.1 71 429.1 69 430.1 67C431.1 65 432.1 63 433 61C433.9 59 434.6 57 435.3 55C436.1 53 436.8 51 437.5 49C438.2 47 438.8 45 439.5 43C440.2 41 440.9 39 441.5 37C442.2 35 442.8 33 443.5 31C444.2 29 445 27 445.7 25C446.5 23 447.2 21 447.9 19C448.6 17 449.4 14.9 450 13C450.6 11.1 451.2 8.5 451.5 7.6" fill="none" stroke="#000" stroke-width="0.55"/>
<path d="M411.4 96.7C412.4 95.7 415.9 92.7 417.7 90.7C419.5 88.7 420.8 86.7 422.2 84.7C423.6 82.7 424.9 80.7 426.1 78.7C427.2 76.7 428.2 74.7 429.2 72.7C430.2 70.7 431.1 68.7 432 66.7C433 64.7 434 62.7 434.8 60.7C435.6 58.7 436.2 56.7 436.9 54.7C437.6 52.7 438.3 50.7 439 48.7C439.6 46.7 440.2 44.7 440.8 42.7C441.4 40.7 442 38.7 442.6 36.7C443.3 34.7 443.8 32.7 444.5 30.7C445.1 28.7 445.8 26.7 446.5 24.7C447.2 22.7 447.9 20.7 448.5 18.7C449.1 16.7 449.8 14.6 450.3 12.7C450.8 10.9 451.3 8.4 451.5 7.6" fill="none" stroke="#000" stroke-width="0.55"/>
<path d="M414.2 96.4C415.2 95.4 418.6 92.4 420.3 90.4C422 88.4 423.3 86.4 424.6 84.4C426 82.4 427.2 80.4 428.3 78.4C429.4 76.4 430.3 74.4 431.3 72.4C432.2 70.4 433.1 68.4 434 66.4C434.8 64.4 435.8 62.4 436.5 60.4C437.3 58.4 437.9 56.4 438.5 54.4C439.2 52.4 439.8 50.4 440.4 48.4C441 46.4 441.5 44.4 442.1 42.4C442.6 40.4 443.2 38.4 443.7 36.4C444.3 34.4 444.8 32.4 445.4 30.4C446 28.4 446.7 26.4 447.3 24.4C447.9 22.4 448.5 20.4 449.1 18.4C449.6 16.4 450.2 14.2 450.6 12.4C451 10.6 451.4 8.4 451.5 7.6" fill="none" stroke="#000" stroke-width="0.55"/>
<path d="M417.1 96.1C418.1 95.1 421.2 92.1 422.9 90.1C424.5 88.1 425.8 86.1 427 84.1C428.3 82.1 429.5 80.1 430.5 78.1C431.6 76.1 432.5 74.1 433.3 72.1C434.2 70.1 435.1 68.1 435.9 66.1C436.7 64.1 437.6 62.1 438.3 60.1C439 58.1 439.5 56.1 440.1 54.1C440.7 52.1 441.3 50.1 441.8 48.1C442.3 46.1 442.8 44.1 443.3 42.1C443.8 40.1 444.3 38.1 444.8 36.1C445.3 34.1 445.8 32.1 446.3 30.1C446.9 28.1 447.5 26.1 448 24.1C448.6 22.1 449.1 20.1 449.6 18.1C450.1 16.1 450.6 13.8 450.9 12.1C451.2 10.3 451.4 8.3 451.5 7.6" fill="none" stroke="#000" stroke-width="0.55"/>
<path d="M419.9 95.8C420.8 94.8 423.9 91.8 425.5 89.8C427 87.8 428.2 85.8 429.4 83.8C430.7 81.8 431.7 79.8 432.7 77.8C433.7 75.8 434.6 73.8 435.4 71.8C436.3 69.8 437 67.8 437.8 65.8C438.5 63.8 439.3 61.8 440 59.8C440.6 57.8 441.1 55.8 441.7 53.8C442.2 51.8 442.7 49.8 443.2 47.8C443.7 45.8 444.1 43.8 444.6 41.8C445 39.8 445.5 37.8 445.9 35.8C446.4 33.8 446.8 31.8 447.3 29.8C447.7 27.8 448.3 25.8 448.7 23.8C449.2 21.8 449.7 19.8 450.1 17.8C450.5 15.8 451 13.5 451.2 11.8C451.4 10.1 451.4 8.3 451.5 7.6" fill="none" stroke="#000" stroke-width="0.55"/>
<path d="M422.7 95.5C423.6 94.5 426.5 91.5 428 89.5C429.5 87.5 430.7 85.5 431.8 83.5C433 81.5 434 79.5 434.9 77.5C435.9 75.5 436.7 73.5 437.5 71.5C438.3 69.5 439 67.5 439.7 65.5C440.4 63.5 441.1 61.5 441.7 59.5C442.3 57.5 442.8 55.5 443.2 53.5C443.7 51.5 444.2 49.5 444.6 47.5C445 45.5 445.4 43.5 445.8 41.5C446.2 39.5 446.6 37.5 447 35.5C447.4 33.5 447.7 31.5 448.1 29.5C448.6 27.5 449 25.5 449.4 23.5C449.9 21.5 450.3 19.5 450.6 17.5C450.9 15.5 451.3 13.2 451.4 11.5C451.6 9.8 451.5 8.2 451.5 7.6" fill="none" stroke="#000" stroke-width="0.55"/>
<path d="M425.5 95.2C426.4 94.2 429.1 91.2 430.6 89.2C432 87.2 433.1 85.2 434.2 83.2C435.3 81.2 436.2 79.2 437.1 77.2C438 75.2 438.8 73.2 439.5 71.2C440.2 69.2 440.9 67.2 441.5 65.2C442.2 63.2 442.8 61.2 443.4 59.2C443.9 57.2 444.4 55.2 444.8 53.2C445.2 51.2 445.6 49.2 446 47.2C446.3 45.2 446.7 43.2 447 41.2C447.3 39.2 447.7 37.2 448 35.2C448.3 33.2 448.7 31.2 449 29.2C449.4 27.2 449.8 25.2 450.1 23.2C450.5 21.2 450.8 19.2 451.1 17.2C451.3 15.2 451.6 12.8 451.6 11.2C451.7 9.6 451.5 8.2 451.5 7.6" fill="none" stroke="#000" stroke-width="0.55"/>
<path d="M428.3 94.9C429.1 93.9 431.7 90.9 433.1 88.9C434.5 86.9 435.5 84.9 436.6 82.9C437.6 80.9 438.4 78.9 439.3 76.9C440.1 74.9 440.8 72.9 441.5 70.9C442.2 68.9 442.8 66.9 443.4 64.9C444 62.9 444.6 60.9 445.1 58.9C445.6 56.9 445.9 54.9 446.3 52.9C446.7 50.9 447 48.9 447.3 46.9C447.6 44.9 447.9 42.9 448.2 40.9C448.5 38.9 448.7 36.9 449 34.9C449.3 32.9 449.6 30.9 449.9 28.9C450.2 26.9 450.5 24.9 450.8 22.9C451.1 20.9 451.4 18.9 451.5 16.9C451.7 14.9 451.8 12.5 451.8 10.9C451.8 9.4 451.6 8.2 451.5 7.6" fill="none" stroke="#000" stroke-width="0.55"/>
<path d="M431.1 94.6C431.9 93.6 434.3 90.6 435.6 88.6C436.9 86.6 437.9 84.6 438.9 82.6C439.9 80.6 440.7 78.6 441.4 76.6C442.2 74.6 442.9 72.6 443.5 70.6C444.1 68.6 444.7 66.6 445.3 64.6C445.8 62.6 446.3 60.6 446.7 58.6C447.2 56.6 447.5 54.6 447.8 52.6C448.1 50.6 448.4 48.6 448.7 46.6C448.9 44.6 449.1 42.6 449.4 40.6C449.6 38.6 449.8 36.6 450 34.6C450.2 32.6 450.5 30.6 450.7 28.6C450.9 26.6 451.2 24.6 451.4 22.6C451.7 20.6 451.9 18.6 452 16.6C452.1 14.6 452.1 12.1 452 10.6C451.9 9.1 451.6 8.1 451.5 7.6" fill="none" stroke="#000" stroke-width="0.55"/>
<path d="M382 55C383.3 55.2 387.3 55.2 390 56C392.7 56.8 395.5 58.2 398 59.5C400.5 60.8 402.7 62.6 405 63.5C407.3 64.4 409.7 65 412 65C414.3 65 416.8 64.3 419 63.5C421.2 62.7 423 61.6 425 60C427 58.4 429.2 56.3 431 54C432.8 51.7 434.5 48.5 436 46C437.5 43.5 439.3 40.2 440 39" fill="none" stroke="#000" stroke-width="0.7"/>
<path d="M389 7.6C389.4 8.2 390.4 10.1 391.4 11C392.4 11.9 393.8 13 395 13C396.2 13 397.6 11.9 398.6 11C399.6 10.1 400.6 8.2 401 7.6" fill="none" stroke="#000" stroke-width="0.6"/>
<path d="M390.5 7.6C390.8 7.9 391.6 8.8 392.3 9.4C393.1 10 394.1 11.4 395 11.4C395.9 11.4 396.9 10 397.7 9.4C398.4 8.8 399.2 7.9 399.5 7.6" fill="none" stroke="#000" stroke-width="0.6"/>
<path d="M392 7.6C392.2 7.6 392.7 7.4 393.2 7.8C393.7 8.2 394.4 9.8 395 9.8C395.6 9.8 396.3 8.2 396.8 7.8C397.3 7.4 397.8 7.6 398 7.6" fill="none" stroke="#000" stroke-width="0.6"/>
<g clip-path="url(#cv2)"><path d="M336 64L400 115.2M336 66.4L400 117.6M336 68.8L400 120M336 71.2L400 122.4M336 73.6L400 124.8M336 76L400 127.2M336 78.4L400 129.6M336 80.8L400 132M336 83.2L400 134.4M336 85.6L400 136.8M336 88L400 139.2M336 90.4L400 141.6M336 92.8L400 144M336 95.2L400 146.4M336 97.6L400 148.8M336 100L400 151.2M336 102.4L400 153.6M336 104.8L400 156M336 107.2L400 158.4M336 109.6L400 160.8M336 112L400 163.2M336 114.4L400 165.6M336 116.8L400 168M336 119.2L400 170.4M336 121.6L400 172.8M336 124L400 175.2M336 126.4L400 177.6M336 128.8L400 180M336 131.2L400 182.4M336 133.6L400 184.8M336 136L400 187.2M336 138.4L400 189.6M336 140.8L400 192M336 143.2L400 194.4M336 145.6L400 196.8M336 148L400 199.2M336 150.4L400 201.6M336 152.8L400 204M336 155.2L400 206.4M336 157.6L400 208.8M336 160L400 211.2M336 162.4L400 213.6M336 164.8L400 216M336 167.2L400 218.4M336 169.6L400 220.8M336 172L400 223.2M336 174.4L400 225.6M336 176.8L400 228M336 179.2L400 230.4M336 181.6L400 232.8M336 184L400 235.2M336 186.4L400 237.6M336 188.8L400 240M336 191.2L400 242.4M336 193.6L400 244.8M336 196L400 247.2M336 198.4L400 249.6M336 200.8L400 252M336 203.2L400 254.4M336 205.6L400 256.8M336 208L400 259.2M336 210.4L400 261.6M336 212.8L400 264M336 215.2L400 266.4M336 217.6L400 268.8M336 220L400 271.2M336 222.4L400 273.6M336 224.8L400 276M336 227.2L400 278.4M336 229.6L400 280.8M336 232L400 283.2M336 234.4L400 285.6M336 236.8L400 288M336 239.2L400 290.4M336 241.6L400 292.8M336 244L400 295.2M336 246.4L400 297.6M336 248.8L400 300M336 251.2L400 302.4M336 253.6L400 304.8" fill="none" stroke="#000" stroke-width="0.6"/></g>
<g clip-path="url(#cv2)"><g clip-path="url(#cv2r)"><path d="M336 65.2L400 129.2M336 67.6L400 131.6M336 70L400 134M336 72.4L400 136.4M336 74.8L400 138.8M336 77.2L400 141.2M336 79.6L400 143.6M336 82L400 146M336 84.4L400 148.4M336 86.8L400 150.8M336 89.2L400 153.2M336 91.6L400 155.6M336 94L400 158M336 96.4L400 160.4M336 98.8L400 162.8M336 101.2L400 165.2M336 103.6L400 167.6M336 106L400 170M336 108.4L400 172.4M336 110.8L400 174.8M336 113.2L400 177.2M336 115.6L400 179.6M336 118L400 182M336 120.4L400 184.4M336 122.8L400 186.8M336 125.2L400 189.2M336 127.6L400 191.6M336 130L400 194M336 132.4L400 196.4M336 134.8L400 198.8M336 137.2L400 201.2M336 139.6L400 203.6M336 142L400 206M336 144.4L400 208.4M336 146.8L400 210.8M336 149.2L400 213.2M336 151.6L400 215.6M336 154L400 218M336 156.4L400 220.4M336 158.8L400 222.8M336 161.2L400 225.2M336 163.6L400 227.6M336 166L400 230M336 168.4L400 232.4M336 170.8L400 234.8M336 173.2L400 237.2M336 175.6L400 239.6M336 178L400 242M336 180.4L400 244.4M336 182.8L400 246.8M336 185.2L400 249.2M336 187.6L400 251.6M336 190L400 254M336 192.4L400 256.4M336 194.8L400 258.8M336 197.2L400 261.2M336 199.6L400 263.6M336 202L400 266M336 204.4L400 268.4M336 206.8L400 270.8M336 209.2L400 273.2M336 211.6L400 275.6M336 214L400 278M336 216.4L400 280.4M336 218.8L400 282.8M336 221.2L400 285.2M336 223.6L400 287.6M336 226L400 290M336 228.4L400 292.4M336 230.8L400 294.8M336 233.2L400 297.2M336 235.6L400 299.6M336 238L400 302M336 240.4L400 304.4M336 242.8L400 306.8M336 245.2L400 309.2M336 247.6L400 311.6M336 250L400 314M336 252.4L400 316.4M336 254.8L400 318.8" fill="none" stroke="#000" stroke-width="0.45"/></g></g>
<path d="M396 164C395 165 392.2 167.8 390 170C387.8 172.2 385.3 174.5 383 177C380.7 179.5 378.2 182.5 376 185C373.8 187.5 372 189.7 370 192C368 194.3 366.2 197 364 199C361.8 201 359.5 202.2 357 204C354.5 205.8 351.7 208 349 210C346.3 212 343.2 214.5 341 216C338.8 217.5 336.8 218.5 336 219" fill="none" stroke="#000" stroke-width="0.8"/>
<g clip-path="url(#clens)"><path d="M336 118L390 136.9M336 118L390 99.1M336 120.2L390 139.1M336 120.2L390 101.3M336 122.4L390 141.3M336 122.4L390 103.5M336 124.6L390 143.5M336 124.6L390 105.7M336 126.8L390 145.7M336 126.8L390 107.9M336 129L390 147.9M336 129L390 110.1M336 131.2L390 150.1M336 131.2L390 112.3M336 133.4L390 152.3M336 133.4L390 114.5M336 135.6L390 154.5M336 135.6L390 116.7M336 137.8L390 156.7M336 137.8L390 118.9M336 140L390 158.9M336 140L390 121.1M336 142.2L390 161.1M336 142.2L390 123.3M336 144.4L390 163.3M336 144.4L390 125.5M336 146.6L390 165.5M336 146.6L390 127.7M336 148.8L390 167.7M336 148.8L390 129.9M336 151L390 169.9M336 151L390 132.1M336 153.2L390 172.1M336 153.2L390 134.3M336 155.4L390 174.3M336 155.4L390 136.5M336 157.6L390 176.5M336 157.6L390 138.7M336 159.8L390 178.7M336 159.8L390 140.9M336 162L390 180.9M336 162L390 143.1M336 164.2L390 183.1M336 164.2L390 145.3M336 166.4L390 185.3M336 166.4L390 147.5M336 168.6L390 187.5M336 168.6L390 149.7M336 170.8L390 189.7M336 170.8L390 151.9M336 173L390 191.9M336 173L390 154.1M336 175.2L390 194.1M336 175.2L390 156.3M336 177.4L390 196.3M336 177.4L390 158.5M336 179.6L390 198.5M336 179.6L390 160.7M336 181.8L390 200.7M336 181.8L390 162.9M336 184L390 202.9M336 184L390 165.1M336 186.2L390 205.1M336 186.2L390 167.3M336 188.4L390 207.3M336 188.4L390 169.5M336 190.6L390 209.5M336 190.6L390 171.7M336 192.8L390 211.7M336 192.8L390 173.9M336 195L390 213.9M336 195L390 176.1M336 197.2L390 216.1M336 197.2L390 178.3M336 199.4L390 218.3M336 199.4L390 180.5M336 201.6L390 220.5M336 201.6L390 182.7M336 203.8L390 222.7M336 203.8L390 184.9" fill="none" stroke="#000" stroke-width="0.5"/></g>
<path d="M337 157C339.6 157.1 347.3 157 352.7 157.5C358.1 158 364.9 159.2 369.3 160C373.7 160.8 377 162 379.3 162.5C381.6 163 383.2 162.3 383 163C382.8 163.7 379.8 165.2 378 166.5C376.2 167.8 374.7 169.6 372 171C369.3 172.4 365.7 174.9 362 175C358.3 175.1 354.2 173 350 171.5C345.8 170 339.2 166.9 337 166Z" fill="#000" fill-opacity="0.25"/>
<path d="M378 163.5C378.2 162 381.5 161 383 160C384.5 159 385.4 158.2 387 157.6C388.6 157 391 156.5 392.7 156.4C394.4 156.3 395.6 156.5 397 157C398.4 157.5 399.7 158.5 401 159.5C402.3 160.5 403.7 162.1 405 163C406.3 163.9 409.2 164.9 409 165.2C408.8 165.5 405.7 164.9 404 165C402.3 165.1 400.8 165.5 399 166C397.2 166.5 395 167.2 393 168C391 168.8 388.8 170.3 387 170.5C385.2 170.7 383.5 170.2 382 169C380.5 167.8 377.8 165 378 163.5Z" fill="#000" fill-opacity="0.7"/>
<path d="M337 157C339.6 157.1 347.3 157 352.7 157.5C358.1 158 364.9 159.2 369.3 160C373.7 160.8 376.5 162.6 379.3 162.3C382.1 162 383.8 159.3 386 158.3C388.2 157.3 390.9 156.7 392.7 156.5C394.5 156.3 395.6 156.5 397 157C398.4 157.5 399.7 158.5 401 159.5C402.3 160.5 403.5 162.1 405 163C406.5 163.9 409.2 164.7 410 165" fill="none" stroke="#000" stroke-width="1.3"/>
<path d="M405 164.3C406.7 164.4 411.7 164.9 415 165C418.3 165.1 421.7 165.1 425 165C428.3 164.9 431.7 164.7 435 164.5C438.3 164.3 441.7 164 445 163.8C448.3 163.6 451.7 163.4 455 163.2C458.3 163 461.7 162.8 465 162.5C468.3 162.2 471.7 161.9 475 161.6C478.3 161.3 481.8 161 485 160.8C488.2 160.6 492.5 160.3 494 160.2" fill="none" stroke="#000" stroke-width="0.55"/>
<path d="M405.1 164.3C406.7 164.5 411.6 165.1 414.9 165.3C418.2 165.5 421.4 165.6 424.7 165.6C428 165.7 431.3 165.6 434.6 165.5C437.9 165.5 441.2 165.4 444.5 165.3C447.8 165.2 451.2 165.2 454.5 165.1C457.8 165 461.1 164.9 464.4 164.7C467.8 164.5 471.1 164.1 474.5 163.9C477.8 163.6 481.3 163.3 484.6 163.1C487.8 162.9 492.4 162.7 494 162.6" fill="none" stroke="#000" stroke-width="0.55"/>
<path d="M405.2 164.4C406.8 164.6 411.6 165.3 414.8 165.6C418.1 166 421.2 166.1 424.4 166.3C427.7 166.4 430.9 166.5 434.1 166.6C437.4 166.7 440.7 166.7 444 166.8C447.3 166.9 450.6 167 454 167C457.3 167 460.5 167 463.9 166.8C467.2 166.7 470.6 166.4 474 166.1C477.3 165.9 480.8 165.5 484.1 165.3C487.5 165.1 492.4 165.1 494 165" fill="none" stroke="#000" stroke-width="0.55"/>
<path d="M405.2 164.4C406.8 164.7 411.6 165.5 414.8 166C417.9 166.4 421 166.6 424.2 166.9C427.3 167.2 430.5 167.4 433.7 167.6C436.9 167.8 440.1 168 443.4 168.3C446.7 168.5 450.1 168.8 453.4 168.9C456.8 169.1 460 169.1 463.3 169C466.7 168.9 470 168.6 473.4 168.4C476.8 168.2 480.3 167.8 483.7 167.6C487.1 167.4 492.3 167.5 494 167.4" fill="none" stroke="#000" stroke-width="0.55"/>
<path d="M405.3 164.5C406.9 164.8 411.6 165.8 414.7 166.3C417.8 166.8 420.8 167.2 423.9 167.6C427 168 430.1 168.3 433.2 168.7C436.4 169 439.6 169.4 442.9 169.8C446.2 170.1 449.6 170.6 452.9 170.8C456.2 171.1 459.4 171.2 462.8 171.2C466.1 171.2 469.5 170.9 472.9 170.7C476.3 170.4 479.7 170 483.2 169.9C486.8 169.7 492.2 169.8 494 169.8" fill="none" stroke="#000" stroke-width="0.55"/>
<path d="M405.4 164.5C406.9 164.9 411.6 166 414.6 166.6C417.6 167.2 420.6 167.7 423.6 168.2C426.6 168.7 429.7 169.2 432.8 169.7C435.9 170.2 439.1 170.7 442.4 171.2C445.7 171.8 449.1 172.4 452.4 172.8C455.7 173.1 458.9 173.3 462.2 173.4C465.5 173.4 469 173.1 472.4 172.9C475.8 172.7 479.2 172.2 482.8 172.1C486.4 172 492.1 172.2 494 172.3" fill="none" stroke="#000" stroke-width="0.55"/>
<path d="M405.5 164.6C407 165 411.5 166.2 414.5 166.9C417.5 167.6 420.3 168.2 423.3 168.8C426.3 169.5 429.3 170.1 432.4 170.7C435.5 171.4 438.6 172.1 441.9 172.7C445.1 173.4 448.6 174.2 451.9 174.7C455.2 175.1 458.3 175.4 461.6 175.5C465 175.6 468.4 175.4 471.9 175.2C475.3 175 478.7 174.5 482.4 174.4C486 174.3 492.1 174.6 494 174.7" fill="none" stroke="#000" stroke-width="0.55"/>
<path d="M405.6 164.6C407 165.1 411.5 166.4 414.4 167.2C417.4 168 420.1 168.7 423 169.5C426 170.2 428.9 171 431.9 171.8C435 172.6 438.1 173.4 441.4 174.2C444.6 175 448.1 176 451.4 176.6C454.6 177.2 457.7 177.6 461.1 177.7C464.4 177.9 467.9 177.7 471.4 177.5C474.8 177.3 478.1 176.7 481.9 176.6C485.7 176.6 492 177 494 177.1" fill="none" stroke="#000" stroke-width="0.55"/>
<path d="M405.6 164.7C407.1 165.2 411.5 166.7 414.4 167.6C417.2 168.5 419.9 169.2 422.8 170.1C425.6 171 428.5 171.9 431.5 172.8C434.5 173.8 437.6 174.8 440.8 175.7C444.1 176.7 447.6 177.8 450.8 178.5C454.1 179.2 457.2 179.7 460.5 179.9C463.9 180.1 467.3 179.9 470.8 179.7C474.3 179.6 477.6 179 481.5 178.9C485.3 178.9 491.9 179.4 494 179.5" fill="none" stroke="#000" stroke-width="0.55"/>
<path d="M405.7 164.7C407.1 165.3 411.5 166.9 414.3 167.9C417.1 168.9 419.7 169.8 422.5 170.8C425.3 171.8 428.1 172.8 431 173.9C434 174.9 437.1 176.1 440.3 177.2C443.5 178.3 447 179.6 450.3 180.4C453.6 181.2 456.6 181.8 460 182C463.3 182.3 466.8 182.2 470.3 182C473.8 181.9 477.1 181.2 481 181.2C485 181.2 491.8 181.8 494 181.9" fill="none" stroke="#000" stroke-width="0.55"/>
<path d="M405.8 164.8C407.2 165.3 411.5 167.1 414.2 168.2C416.9 169.3 419.5 170.3 422.2 171.4C424.9 172.5 427.7 173.7 430.6 174.9C433.5 176.1 436.6 177.4 439.8 178.7C443 179.9 446.5 181.4 449.8 182.3C453.1 183.2 456.1 183.9 459.4 184.2C462.7 184.5 466.3 184.4 469.8 184.3C473.3 184.2 476.6 183.4 480.6 183.4C484.6 183.4 491.8 184.2 494 184.3" fill="none" stroke="#000" stroke-width="0.55"/>
<path d="M405.9 164.8C407.3 165.4 411.4 167.3 414.1 168.5C416.8 169.7 419.2 170.8 421.9 172C424.6 173.3 427.3 174.6 430.2 175.9C433.1 177.3 436.1 178.8 439.3 180.2C442.5 181.6 446 183.2 449.3 184.2C452.5 185.3 455.5 186 458.8 186.4C462.2 186.8 465.7 186.7 469.3 186.5C472.8 186.4 476 185.7 480.2 185.7C484.3 185.7 491.7 186.6 494 186.7" fill="none" stroke="#000" stroke-width="0.55"/>
<path d="M406 164.9C407.3 165.5 411.4 167.5 414 168.8C416.7 170.1 419 171.3 421.6 172.7C424.3 174 426.9 175.5 429.7 177C432.6 178.5 435.6 180.1 438.8 181.7C441.9 183.2 445.5 185 448.8 186.1C452 187.3 454.9 188.1 458.3 188.6C461.6 189 465.2 188.9 468.8 188.8C472.3 188.7 475.5 187.9 479.7 188C483.9 188 491.6 188.9 494 189.1" fill="none" stroke="#000" stroke-width="0.55"/>
<path d="M406 164.9C407.4 165.6 411.4 167.8 414 169.2C416.5 170.6 418.8 171.8 421.4 173.3C423.9 174.8 426.5 176.4 429.3 178C432.1 179.7 435.1 181.5 438.2 183.1C441.4 184.8 445 186.8 448.2 188.1C451.5 189.3 454.4 190.2 457.7 190.7C461.1 191.2 464.6 191.2 468.2 191.1C471.8 191 475 190.2 479.3 190.2C483.6 190.3 491.5 191.3 494 191.6" fill="none" stroke="#000" stroke-width="0.55"/>
<path d="M406.1 165C407.4 165.7 411.4 168 413.9 169.5C416.4 171 418.6 172.4 421.1 174C423.6 175.6 426.1 177.3 428.8 179.1C431.6 180.8 434.6 182.8 437.7 184.6C440.9 186.4 444.5 188.6 447.7 190C451 191.3 453.8 192.3 457.2 192.9C460.5 193.5 464.1 193.4 467.7 193.4C471.3 193.3 474.5 192.4 478.8 192.5C483.2 192.6 491.5 193.7 494 194" fill="none" stroke="#000" stroke-width="0.55"/>
<path d="M406.2 165C407.5 165.8 411.4 168.2 413.8 169.8C416.2 171.4 418.4 172.9 420.8 174.6C423.2 176.3 425.7 178.2 428.4 180.1C431.1 182 434.1 184.2 437.2 186.1C440.3 188.1 444 190.4 447.2 191.9C450.4 193.4 453.3 194.5 456.6 195.1C459.9 195.7 463.6 195.7 467.2 195.6C470.8 195.6 473.9 194.6 478.4 194.8C482.9 194.9 491.4 196.1 494 196.4" fill="none" stroke="#000" stroke-width="0.55"/>
<path d="M406.3 165.1C407.5 165.9 411.3 168.4 413.7 170.1C416.1 171.8 418.1 173.4 420.5 175.2C422.9 177.1 425.3 179.1 428 181.1C430.7 183.2 433.6 185.5 436.7 187.6C439.8 189.7 443.5 192.2 446.7 193.8C449.9 195.4 452.7 196.6 456 197.3C459.4 197.9 463 197.9 466.7 197.9C470.3 197.8 473.4 196.9 478 197C482.5 197.2 491.3 198.5 494 198.8" fill="none" stroke="#000" stroke-width="0.55"/>
<path d="M406.4 165.1C407.6 166 411.3 168.6 413.6 170.4C416 172.2 417.9 173.9 420.2 175.9C422.6 177.8 424.9 180 427.5 182.2C430.2 184.4 433.1 186.8 436.2 189.1C439.3 191.3 442.9 194 446.2 195.7C449.4 197.4 452.1 198.7 455.5 199.4C458.8 200.2 462.5 200.2 466.2 200.2C469.8 200.1 472.9 199.1 477.5 199.3C482.2 199.5 491.3 200.9 494 201.2" fill="none" stroke="#000" stroke-width="0.55"/>
<path d="M406.4 165.2C407.6 166.1 411.3 168.9 413.6 170.8C415.8 172.7 417.7 174.4 420 176.5C422.2 178.6 424.5 180.9 427.1 183.2C429.7 185.6 432.5 188.2 435.6 190.6C438.7 193 442.4 195.8 445.6 197.6C448.9 199.5 451.6 200.8 454.9 201.6C458.3 202.4 461.9 202.4 465.6 202.4C469.3 202.4 472.4 201.4 477.1 201.6C481.8 201.8 491.2 203.3 494 203.6" fill="none" stroke="#000" stroke-width="0.55"/>
<path d="M406.5 165.2C407.7 166.2 411.3 169.1 413.5 171.1C415.7 173.1 417.5 175 419.7 177.2C421.9 179.4 424.1 181.8 426.6 184.3C429.2 186.7 432 189.5 435.1 192.1C438.2 194.6 441.9 197.6 445.1 199.5C448.3 201.5 451 202.9 454.4 203.8C457.7 204.6 461.4 204.7 465.1 204.7C468.8 204.7 471.8 203.6 476.6 203.8C481.5 204 491.1 205.7 494 206" fill="none" stroke="#000" stroke-width="0.55"/>
<path d="M406.6 165.3C407.7 166.3 411.3 169.3 413.4 171.4C415.5 173.5 417.3 175.5 419.4 177.8C421.5 180.1 423.7 182.7 426.2 185.3C428.7 187.9 431.5 190.9 434.6 193.6C437.7 196.2 441.4 199.4 444.6 201.4C447.8 203.5 450.5 205 453.8 205.9C457.1 206.9 460.9 206.9 464.6 207C468.3 207 471.3 205.8 476.2 206.1C481.1 206.3 491 208 494 208.4" fill="none" stroke="#000" stroke-width="0.55"/>
<path d="M406.7 165.3C407.8 166.4 411.2 169.5 413.3 171.7C415.4 173.9 417 176 419.1 178.4C421.2 180.9 423.3 183.6 425.8 186.3C428.3 189.1 431 192.2 434.1 195C437.1 197.9 440.9 201.2 444.1 203.4C447.3 205.5 449.9 207.1 453.2 208.1C456.6 209.1 460.3 209.2 464.1 209.2C467.8 209.3 470.8 208.1 475.8 208.3C480.7 208.6 491 210.4 494 210.9" fill="none" stroke="#000" stroke-width="0.55"/>
<path d="M406.8 165.4C407.8 166.5 411.2 169.8 413.2 172C415.3 174.3 416.8 176.5 418.8 179.1C420.9 181.6 422.9 184.5 425.3 187.4C427.8 190.3 430.5 193.6 433.6 196.5C436.6 199.5 440.4 203 443.6 205.3C446.7 207.6 449.3 209.2 452.7 210.3C456 211.3 459.8 211.4 463.6 211.5C467.3 211.6 470.2 210.3 475.3 210.6C480.4 210.9 490.9 212.8 494 213.3" fill="none" stroke="#000" stroke-width="0.55"/>
<path d="M406.8 165.4C407.9 166.6 411.2 170 413.2 172.4C415.1 174.7 416.6 177 418.6 179.7C420.5 182.4 422.5 185.4 424.9 188.4C427.3 191.5 430 194.9 433 198C436.1 201.2 439.9 204.8 443 207.2C446.2 209.6 448.8 211.4 452.1 212.5C455.5 213.6 459.2 213.7 463 213.8C466.8 213.8 469.7 212.6 474.9 212.9C480 213.2 490.8 215.2 494 215.7" fill="none" stroke="#000" stroke-width="0.55"/>
<path d="M406.9 165.5C407.9 166.7 411.2 170.2 413.1 172.7C415 175.2 416.4 177.6 418.3 180.4C420.2 183.2 422.1 186.3 424.4 189.5C426.8 192.7 429.5 196.2 432.5 199.5C435.5 202.8 439.3 206.6 442.5 209.1C445.7 211.6 448.2 213.5 451.6 214.6C454.9 215.8 458.7 215.9 462.5 216C466.3 216.1 469.2 214.8 474.4 215.1C479.7 215.5 490.7 217.6 494 218.1" fill="none" stroke="#000" stroke-width="0.55"/>
<path d="M407 165.5C408 166.8 411.2 170.4 413 173C414.8 175.6 416.2 178.1 418 181C419.8 183.9 421.7 187.2 424 190.5C426.3 193.8 429 197.6 432 201C435 204.4 438.8 208.4 442 211C445.2 213.6 447.7 215.6 451 216.8C454.3 218 458.2 218.2 462 218.3C465.8 218.4 468.7 217 474 217.4C479.3 217.8 490.7 220 494 220.5" fill="none" stroke="#000" stroke-width="0.55"/>
<path d="M406 165L413 172L418 180L424 189.5L431 199L440 209L446 213.5L452 216.8L460 218.5L470 217.5L480 218L494 220.8L494 218.8L480 216.2L470 215.7L460 216.5L452 214.8L444 209.5L436 200L428 190L421 179L416 170.5L410 165Z" fill="#000" fill-opacity="0.7"/>
<path d="M405 164.3C406.7 164.4 411.7 164.9 415 165C418.3 165.1 421.7 165.1 425 165C428.3 164.9 431.7 164.7 435 164.5C438.3 164.3 441.7 164 445 163.8C448.3 163.6 451.7 163.4 455 163.2C458.3 163 461.7 162.8 465 162.5C468.3 162.2 471.7 161.9 475 161.6C478.3 161.3 481.8 161 485 160.8C488.2 160.6 492.5 160.3 494 160.2" fill="none" stroke="#000" stroke-width="1.0"/>
<g clip-path="url(#chump)"><path d="M332 282C332.3 280.3 333.3 274.9 334 271.5C334.7 268.1 335.3 264.8 336 261.6C336.7 258.5 337.3 255.4 338 252.5C338.7 249.5 339.3 246.7 340 244C340.7 241.2 341.3 238.6 342 236.1C342.7 233.6 343.3 231.3 344 229C344.7 226.7 345.3 224.6 346 222.5C346.7 220.5 347.3 218.6 348 216.8C348.7 214.9 349.3 213.2 350 211.7C350.7 210.1 351.3 208.6 352 207.2C352.7 205.9 353.3 204.6 354 203.5C354.7 202.4 355.3 201.3 356 200.4C356.7 199.5 357.3 198.7 358 198.1C358.7 197.4 359.3 196.8 360 196.4C360.7 195.9 361.3 195.6 362 195.3C362.7 195.1 363.4 195 364 195C364.6 195 365 195.2 365.5 195.5C366 195.9 366.5 196.4 367 197.2C367.5 197.9 368 198.8 368.5 199.9C369 200.9 369.5 202.2 370 203.6C370.5 205.1 371 206.7 371.5 208.5C372 210.3 372.5 212.3 373 214.4C373.5 216.6 374 218.9 374.5 221.5C375 224 375.5 226.7 376 229.6C376.5 232.4 377 235.5 377.5 238.7C378 242 378.5 245.4 379 249C379.5 252.6 380.2 258.5 380.5 260.3M334.8 281.3C335.1 279.6 336.1 274.3 336.8 271C337.4 267.7 338.1 264.4 338.8 261.4C339.4 258.3 340.1 255.3 340.8 252.5C341.4 249.6 342.1 246.9 342.8 244.3C343.4 241.7 344.1 239.2 344.8 236.8C345.4 234.4 346.1 232.2 346.8 230C347.4 227.9 348.1 225.9 348.8 224C349.4 222.1 350.1 220.3 350.8 218.6C351.4 217 352.1 215.4 352.8 214C353.4 212.6 354.1 211.3 354.8 210.1C355.4 208.9 356.1 207.8 356.8 206.9C357.4 205.9 358.1 205.1 358.8 204.4C359.4 203.7 360.1 203.1 360.8 202.6C361.4 202.1 362.1 201.8 362.8 201.6C363.4 201.3 364.2 201.2 364.8 201.2C365.3 201.2 365.8 201.4 366.2 201.8C366.8 202.2 367.2 202.8 367.8 203.5C368.2 204.3 368.8 205.3 369.2 206.5C369.8 207.6 370.2 209 370.8 210.6C371.2 212.1 371.8 213.9 372.2 215.8C372.8 217.8 373.2 219.9 373.8 222.3C374.2 224.6 374.8 227.1 375.2 229.9C375.8 232.6 376.2 235.5 376.8 238.6C377.2 241.8 377.8 245.1 378.2 248.6C378.8 252.1 379.2 255.8 379.8 259.7C380.2 263.6 381 269.9 381.2 272M337.5 280.3C337.8 278.6 338.8 273.5 339.5 270.3C340.2 267 340.8 263.9 341.5 261C342.2 258 342.8 255.1 343.5 252.4C344.2 249.7 344.8 247.1 345.5 244.6C346.2 242.1 346.8 239.8 347.5 237.5C348.2 235.3 348.8 233.2 349.5 231.2C350.2 229.2 350.8 227.4 351.5 225.6C352.2 223.9 352.8 222.3 353.5 220.8C354.2 219.3 354.8 217.9 355.5 216.7C356.2 215.5 356.8 214.3 357.5 213.4C358.2 212.4 358.8 211.5 359.5 210.7C360.2 210 360.8 209.4 361.5 208.9C362.2 208.4 362.8 208 363.5 207.8C364.2 207.5 364.9 207.4 365.5 207.4C366.1 207.4 366.5 207.6 367 208C367.5 208.4 368 209.1 368.5 209.9C369 210.8 369.5 211.8 370 213.1C370.5 214.3 371 215.8 371.5 217.5C372 219.2 372.5 221.1 373 223.2C373.5 225.2 374 227.6 374.5 230.1C375 232.6 375.5 235.3 376 238.3C376.5 241.2 377 244.4 377.5 247.7C378 251.1 378.5 254.7 379 258.4C379.5 262.2 380 266.2 380.5 270.4C381 274.6 381.8 281.4 382 283.6M338.2 289.6C338.6 287.9 339.6 282.5 340.2 279.2C340.9 275.8 341.6 272.6 342.2 269.5C342.9 266.4 343.6 263.4 344.2 260.5C344.9 257.7 345.6 255 346.2 252.4C346.9 249.8 347.6 247.4 348.2 245C348.9 242.7 349.6 240.5 350.2 238.4C350.9 236.4 351.6 234.4 352.2 232.6C352.9 230.8 353.6 229.1 354.2 227.6C354.9 226 355.6 224.6 356.2 223.3C356.9 222 357.6 220.8 358.2 219.8C358.9 218.8 359.6 217.9 360.2 217.1C360.9 216.3 361.6 215.7 362.2 215.2C362.9 214.6 363.6 214.2 364.2 214C364.9 213.7 365.7 213.6 366.2 213.6C366.8 213.6 367.2 213.8 367.8 214.3C368.2 214.7 368.8 215.4 369.2 216.3C369.8 217.2 370.2 218.3 370.8 219.7C371.2 221 371.8 222.6 372.2 224.4C372.8 226.2 373.2 228.2 373.8 230.5C374.2 232.7 374.8 235.2 375.2 237.9C375.8 240.6 376.2 243.5 376.8 246.7C377.2 249.8 377.8 253.2 378.2 256.8C378.8 260.4 379.2 264.2 379.8 268.3C380.2 272.3 381 279 381.2 281.1M341 288.1C341.3 286.4 342.3 281.2 343 278C343.7 274.7 344.3 271.6 345 268.7C345.7 265.7 346.3 262.9 347 260.2C347.7 257.5 348.3 254.9 349 252.5C349.7 250.1 350.3 247.8 351 245.7C351.7 243.5 352.3 241.5 353 239.6C353.7 237.7 354.3 236 355 234.3C355.7 232.7 356.3 231.2 357 229.9C357.7 228.6 358.3 227.3 359 226.3C359.7 225.2 360.3 224.2 361 223.4C361.7 222.6 362.3 222 363 221.4C363.7 220.9 364.3 220.5 365 220.2C365.7 219.9 366.4 219.7 367 219.8C367.6 219.9 368 220 368.5 220.5C369 221 369.5 221.7 370 222.7C370.5 223.6 371 224.8 371.5 226.3C372 227.7 372.5 229.4 373 231.3C373.5 233.2 374 235.4 374.5 237.8C375 240.2 375.5 242.8 376 245.7C376.5 248.6 377 251.7 377.5 255.1C378 258.4 378.5 262 379 265.9C379.5 269.7 380.2 276.1 380.5 278.1M343.8 286.5C344.1 284.9 345.1 279.9 345.8 276.8C346.4 273.7 347.1 270.8 347.8 268C348.4 265.2 349.1 262.5 349.8 260C350.4 257.5 351.1 255.1 351.8 252.9C352.4 250.6 353.1 248.5 353.8 246.6C354.4 244.6 355.1 242.8 355.8 241.1C356.4 239.4 357.1 237.9 357.8 236.5C358.4 235.1 359.1 233.8 359.8 232.7C360.4 231.6 361.1 230.6 361.8 229.8C362.4 228.9 363.1 228.2 363.8 227.7C364.4 227.1 365.1 226.7 365.8 226.4C366.4 226.1 367.2 225.9 367.8 226C368.3 226.1 368.8 226.3 369.2 226.8C369.8 227.3 370.2 228 370.8 229.1C371.2 230.1 371.8 231.4 372.2 232.9C372.8 234.4 373.2 236.2 373.8 238.2C374.2 240.3 374.8 242.6 375.2 245.1C375.8 247.7 376.2 250.5 376.8 253.5C377.2 256.6 377.8 259.9 378.2 263.5C378.8 267.1 379.2 270.9 379.8 275C380.2 279 381 285.8 381.2 288M346.5 285C346.8 283.4 347.8 278.7 348.5 275.8C349.2 272.9 349.8 270.1 350.5 267.5C351.2 264.9 351.8 262.4 352.5 260.1C353.2 257.8 353.8 255.6 354.5 253.6C355.2 251.5 355.8 249.6 356.5 247.9C357.2 246.2 357.8 244.6 358.5 243.1C359.2 241.6 359.8 240.3 360.5 239.2C361.2 238 361.8 237 362.5 236.1C363.2 235.3 363.8 234.5 364.5 233.9C365.2 233.4 365.8 232.9 366.5 232.6C367.2 232.3 367.9 232.1 368.5 232.2C369.1 232.3 369.5 232.5 370 233C370.5 233.5 371 234.4 371.5 235.4C372 236.5 372.5 237.9 373 239.5C373.5 241.1 374 243 374.5 245.2C375 247.3 375.5 249.8 376 252.4C376.5 255.1 377 258.1 377.5 261.4C378 264.6 378.5 268.1 379 271.9C379.5 275.7 380.2 282 380.5 284M349.2 283.6C349.6 282.2 350.6 277.7 351.2 275C351.9 272.3 352.6 269.7 353.2 267.3C353.9 264.9 354.6 262.7 355.2 260.5C355.9 258.4 356.6 256.5 357.2 254.7C357.9 252.9 358.6 251.2 359.2 249.7C359.9 248.2 360.6 246.8 361.2 245.6C361.9 244.4 362.6 243.4 363.2 242.5C363.9 241.6 364.6 240.8 365.2 240.2C365.9 239.6 366.6 239.2 367.2 238.9C367.9 238.6 368.7 238.3 369.2 238.4C369.8 238.5 370.2 238.7 370.8 239.3C371.2 239.8 371.8 240.7 372.2 241.8C372.8 243 373.2 244.4 373.8 246.1C374.2 247.8 374.8 249.8 375.2 252.1C375.8 254.4 376.2 256.9 376.8 259.8C377.2 262.6 377.8 265.8 378.2 269.2C378.8 272.6 379.5 278.4 379.8 280.3M352 282.5C352.3 281.2 353.3 277 354 274.6C354.7 272.1 355.3 269.7 356 267.5C356.7 265.3 357.3 263.3 358 261.4C358.7 259.6 359.3 257.9 360 256.3C360.7 254.7 361.3 253.3 362 252.1C362.7 250.8 363.3 249.7 364 248.8C364.7 247.9 365.3 247.1 366 246.5C366.7 245.8 367.3 245.4 368 245.1C368.7 244.8 369.4 244.5 370 244.6C370.6 244.7 371 244.9 371.5 245.5C372 246.1 372.5 247 373 248.2C373.5 249.4 374 250.9 374.5 252.7C375 254.5 375.5 256.6 376 259C376.5 261.4 377 264.1 377.5 267.1C378 270.1 378.5 273.4 379 277C379.5 280.6 380.2 286.8 380.5 288.7M354.8 281.8C355.1 280.6 356.1 276.8 356.8 274.5C357.4 272.3 358.1 270.2 358.8 268.2C359.4 266.3 360.1 264.5 360.8 262.9C361.4 261.3 362.1 259.8 362.8 258.5C363.4 257.3 364.1 256.1 364.8 255.2C365.4 254.2 366.1 253.4 366.8 252.7C367.4 252.1 368.1 251.6 368.8 251.3C369.4 251 370.2 250.7 370.8 250.8C371.3 250.9 371.8 251.1 372.2 251.7C372.8 252.4 373.2 253.3 373.8 254.6C374.2 255.8 374.8 257.4 375.2 259.3C375.8 261.2 376.2 263.4 376.8 265.9C377.2 268.4 377.8 271.3 378.2 274.4C378.8 277.6 379.5 283.1 379.8 284.8M355.5 289C355.8 287.8 356.8 283.8 357.5 281.5C358.2 279.2 358.8 277 359.5 275C360.2 273 360.8 271.2 361.5 269.5C362.2 267.8 362.8 266.3 363.5 265C364.2 263.7 364.8 262.5 365.5 261.5C366.2 260.5 366.8 259.7 367.5 259C368.2 258.3 368.8 257.8 369.5 257.5C370.2 257.2 370.9 256.9 371.5 257C372.1 257.1 372.5 257.3 373 258C373.5 258.6 374 259.6 374.5 261C375 262.3 375.5 263.9 376 265.9C376.5 267.9 377 270.2 377.5 272.8C378 275.5 378.8 280.3 379 281.8M358.2 288.5C358.6 287.4 359.6 283.8 360.2 281.8C360.9 279.7 361.6 277.8 362.2 276.1C362.9 274.4 363.6 272.8 364.2 271.5C364.9 270.1 365.6 268.9 366.2 267.8C366.9 266.8 367.6 266 368.2 265.3C368.9 264.6 369.6 264.1 370.2 263.7C370.9 263.4 371.7 263.1 372.2 263.2C372.8 263.3 373.2 263.5 373.8 264.2C374.2 264.9 374.8 266 375.2 267.3C375.8 268.7 376.2 270.4 376.8 272.5C377.2 274.6 377.8 277 378.2 279.8C378.8 282.5 379.5 287.5 379.8 289.1M361 288.6C361.3 287.6 362.3 284.5 363 282.7C363.7 280.9 364.3 279.3 365 277.9C365.7 276.5 366.3 275.3 367 274.2C367.7 273.1 368.3 272.2 369 271.5C369.7 270.8 370.3 270.3 371 269.9C371.7 269.6 372.4 269.3 373 269.4C373.6 269.5 374 269.8 374.5 270.5C375 271.2 375.5 272.3 376 273.7C376.5 275.2 377 277 377.5 279.1C378 281.3 378.8 285.4 379 286.7" fill="none" stroke="#000" stroke-width="0.6"/></g>
<path d="M364 195L368.5 204L372.5 215L376.5 228L380.5 240.5L384.5 256L388.3 274.4L385.6 274.4L382.5 256L379 240.5L375.5 228L371.8 215L368 204.3L363.8 195.5Z" fill="#000"/>
<g clip-path="url(#cbl)"><path d="M370 274.4L378 232M371.5 274.4L379.5 232M373 274.4L381 232M374.5 274.4L382.5 232M376 274.4L384 232M377.5 274.4L385.5 232M379 274.4L387 232M380.5 274.4L388.5 232M382 274.4L390 232M383.5 274.4L391.5 232M385 274.4L393 232M386.5 274.4L394.5 232" fill="none" stroke="#000" stroke-width="0.45"/></g>
<path d="M398 166C399 167.5 402.2 171.8 404 175C405.8 178.2 407.5 181.7 409 185C410.5 188.3 412 192.3 413 195C414 197.7 414 200.7 415 201C416 201.3 417.5 198.3 419 197C420.5 195.7 422.2 194.1 424 193C425.8 191.9 429 190.9 430 190.5" fill="none" stroke="#000" stroke-width="0.6"/>
<path d="M401 166C402 167.5 405.3 172 407 175C408.7 178 409.8 180.8 411 184C412.2 187.2 413.3 191.2 414 194C414.7 196.8 415.1 199.8 415.3 201" fill="none" stroke="#000" stroke-width="0.6"/>
<path d="M376 229C376.8 230.2 379.5 233.7 381 236C382.5 238.3 383.6 241 385 243C386.4 245 387.9 247.7 389.4 248C390.9 248.3 392.2 246.8 394 245C395.8 243.2 398.2 239.8 400 237C401.8 234.2 403.3 231.5 405 228C406.7 224.5 408.3 219.7 410 216C411.7 212.3 413.5 206.7 415 206C416.5 205.3 417.3 209.3 419 212C420.7 214.7 423 218.7 425 222C427 225.3 429 228.7 431 232C433 235.3 434.8 238.7 437 242C439.2 245.3 441.7 248.8 444 252C446.3 255.2 448.7 258.3 451 261C453.3 263.7 455.5 266.1 458 268C460.5 269.9 463.3 271.6 466 272.5C468.7 273.4 472.7 273.3 474 273.5" fill="none" stroke="#000" stroke-width="0.6"/>
<path d="M376 236C376.8 237.2 379.6 240.7 381 243C382.4 245.3 383.4 248 384.5 250C385.6 252 386.4 254.5 387.7 254.8C388.9 255.1 390.3 253.8 392 252C393.7 250.2 396 247.2 398 244C400 240.8 402 236.6 404 233C406 229.4 408 225.3 410 222.5C412 219.7 414.2 216.2 416 216C417.8 215.8 419.3 218.8 421 221C422.7 223.2 424.3 226 426 229C427.7 232 429.3 235.5 431 239C432.7 242.5 434.1 246.6 436 250C437.9 253.4 440.4 259 442.6 259.5C444.8 260 446.9 255.4 449 253C451.1 250.6 453 248 455.3 245.2C457.6 242.4 460.2 239 463 236C465.8 233 468.8 229.4 472 227C475.2 224.6 478.3 222.9 482 221.5C485.7 220.1 492 219.2 494 218.8" fill="none" stroke="#000" stroke-width="0.6"/>
<path d="M418 196C419.7 197.8 425 203.1 428 206.5C431 209.9 433 212.5 436 216.6C439 220.7 442.8 226.2 446 231C449.2 235.8 452.1 240.9 455.3 245.2C458.5 249.5 461.9 253.5 465 257C468.1 260.5 471.2 263.6 474 266C476.8 268.4 480 270.1 482 271.5C484 272.9 485.3 273.9 486 274.4" fill="none" stroke="#000" stroke-width="0.6"/>
<path d="M436 242C436.8 243.3 439.3 247.3 441 250C442.7 252.7 444.5 255.5 446 258C447.5 260.5 448.7 262.8 450 265C451.3 267.2 453 269.4 454 271C455 272.6 455.7 273.8 456 274.4" fill="none" stroke="#000" stroke-width="0.6"/>
<path d="M455 273C456.2 272.5 459.2 270.6 462 270C464.8 269.4 468.7 269.4 472 269.5C475.3 269.6 480 269.8 482 270.5C484 271.2 483.7 273.4 484 274" fill="none" stroke="#000" stroke-width="0.8"/>
<path d="M458 274C459.3 273.6 463 271.8 466 271.3C469 270.8 473.2 270.8 476 271C478.8 271.2 481.8 272.2 483 272.5" fill="none" stroke="#000" stroke-width="0.6"/>
<g clip-path="url(#cbr)"><path d="M482 274.4L490 245M483.3 274.4L491.3 245M484.6 274.4L492.6 245M485.9 274.4L493.9 245M487.2 274.4L495.2 245M488.5 274.4L496.5 245M489.8 274.4L497.8 245M491.1 274.4L499.1 245M492.4 274.4L500.4 245M493.7 274.4L501.7 245" fill="none" stroke="#000" stroke-width="0.5"/></g>
<path d="M482 274.4L493 250" fill="none" stroke="#000" stroke-width="1.0"/>
<path d="M336 141.2H492.7" stroke="#000" stroke-width="1.9" stroke-dasharray="6.5 6.5"/>
<path d="M337 151C338.2 150 341.7 146.9 344 145C346.3 143.1 348.7 141.6 351 139.5C353.3 137.4 355.7 134.8 358 132.5C360.3 130.2 362.8 127.7 365 125.5C367.2 123.3 368.9 121 371 119.5C373.1 118 375.7 116.6 377.7 116.3C379.7 116 381.3 116.6 383 117.5C384.7 118.4 386.3 119.9 388 121.5C389.7 123.1 391.5 125.4 393 127C394.5 128.6 395.5 130 397 131C398.5 132 400 132.9 401.8 133C403.6 133.1 405.8 132.5 408 131.6C410.2 130.7 412.8 129.4 415 127.5C417.2 125.6 419.3 123 421.4 120.2C423.5 117.4 425.7 114.3 427.8 110.6C429.9 106.9 432.2 101.8 434.2 97.9C436.1 94 437.7 90.6 439.5 87.2C441.3 83.8 443.2 80.2 445 77.6C446.8 75 448.7 72.8 450.2 71.6C451.7 70.4 452.5 70.2 454 70.6C455.5 71 457.5 72.8 459.3 74.2C461.1 75.6 462.9 77.5 464.7 79.2C466.5 80.9 468.2 82.8 470 84.5C471.8 86.2 473.5 87.9 475.3 89.3C477.1 90.7 478.9 92.1 480.7 93.1C482.5 94.1 484.2 94.7 486 95.2C487.8 95.7 490 95.8 491.3 96C492.6 96.2 493.6 96.1 494 96.1" fill="none" stroke="#1b75cc" stroke-width="2"/>
<path d="M474 161.5C475 161.1 477.8 160.1 480 159C482.2 157.9 484.8 156.3 487 155C489.2 153.7 492 151.7 493 151" fill="none" stroke="#1b75cc" stroke-width="2"/>
<path d="M337 96.3C338.3 96.3 342.5 96.3 345 96.2C347.5 96.1 349.8 95.8 352 95.6C354.2 95.4 356 95 358 94.8C360 94.6 362.3 94.3 364 94.2C365.7 94.1 366.5 94 368 94.1C369.5 94.2 371.5 94.5 373 95C374.5 95.5 375.8 96.2 377 97C378.2 97.8 379 98.8 380 100C381 101.2 382.1 102.7 383 104C383.9 105.3 384.7 106.5 385.5 108C386.3 109.5 387.2 111.3 388 113C388.8 114.7 389.3 116.2 390 118C390.7 119.8 391.4 122.1 392 124C392.6 125.9 392.9 127.3 393.5 129.2C394.1 131.1 394.7 133.4 395.3 135.5C395.9 137.6 396.4 139.5 397 141.6C397.6 143.7 398.3 146 399 148C399.7 150 400.5 151.9 401.2 153.7C401.9 155.4 402.5 157 403.2 158.5C403.9 160 404.4 161.6 405.2 162.6C406 163.6 406.7 164.1 408 164.5C409.3 164.9 410.2 164.9 413 165C415.8 165.1 421.7 165.4 425 165.2C428.3 165 430.8 164.8 433 164C435.2 163.2 436.2 161.6 438 160.5C439.8 159.4 442 158.1 444 157.5C446 156.9 448 156.7 450 156.7C452 156.7 453.7 157.1 456 157.5C458.3 157.9 461 158.6 464 159.3C467 160 472.3 161.1 474 161.5" fill="none" stroke="#ee0000" stroke-width="2"/>
</g>
<rect x="337" y="7.6" width="155.7" height="266.79999999999995" fill="none" stroke="#333" stroke-width="1.3"/>
<path d="M337 41h2.5M492.7 41h-2.5M337 74.3h4M492.7 74.3h-4M337 107.7h2.5M492.7 107.7h-2.5M337 141h4M492.7 141h-4M337 174.3h2.5M492.7 174.3h-2.5M337 207.7h4M492.7 207.7h-4M337 241.1h2.5M492.7 241.1h-2.5" stroke="#333" stroke-width="1"/>
<g font-family="Liberation Serif" font-size="16.5">
<text x="498.6" y="13.3">1.0</text>
<text x="498.6" y="80">0.5</text>
<text x="498.6" y="146.7">0.0</text>
<text x="498.2" y="213.4">-0.5</text>
<text x="498.2" y="280.1">-1.0</text>
</g>
<g font-family="Liberation Serif" font-size="22">
<text x="320" y="298">-X</text><text x="357.4" y="298">K'</text><text x="408" y="298">Γ</text><text x="451" y="298">K</text><text x="485" y="298">X</text>
<text transform="translate(322 199.4) rotate(-90)" font-size="22.8">Energy (eV)</text>
</g>
</svg>
</body></html>
